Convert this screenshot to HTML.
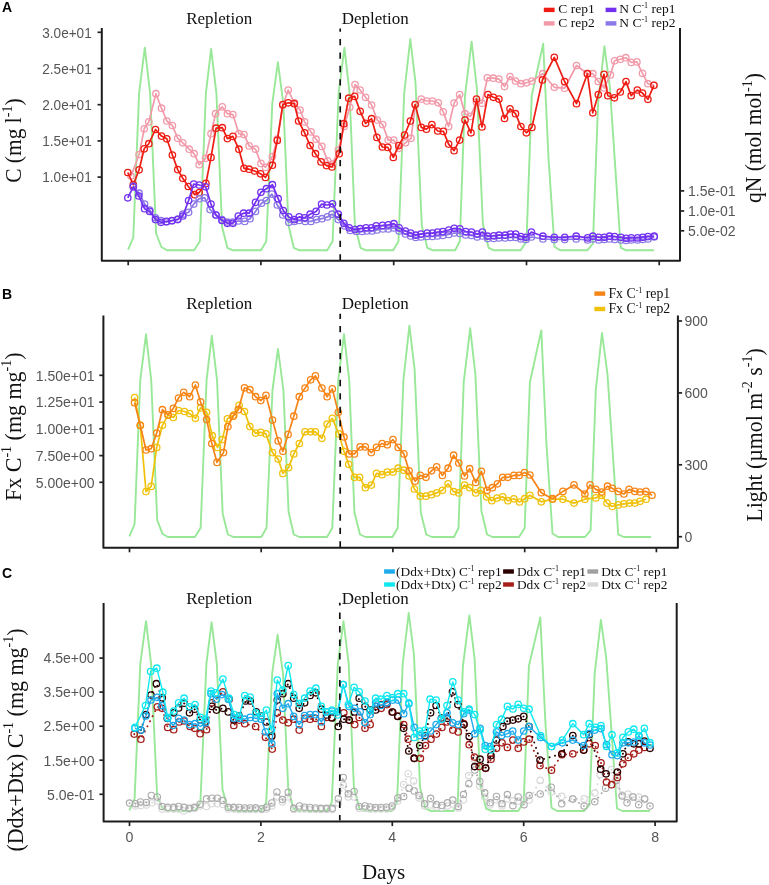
<!DOCTYPE html>
<html><head><meta charset="utf-8"><style>
html,body{margin:0;padding:0;background:#fff;width:769px;height:885px;overflow:hidden}
svg{display:block;will-change:transform;filter:blur(0.35px)}
</style></head><body>
<svg width="769" height="885" viewBox="0 0 769 885">
<rect width="769" height="885" fill="#fff"/>
<text x="2" y="12.2" font-family="Liberation Sans, sans-serif" font-weight="bold" font-size="14" fill="#000">A</text>
<text x="186.2" y="24.3" font-family="Liberation Serif, serif" font-size="17.6" textLength="66" lengthAdjust="spacingAndGlyphs" fill="#111">Repletion</text>
<text x="341.7" y="24.3" font-family="Liberation Serif, serif" font-size="17.6" textLength="67" lengthAdjust="spacingAndGlyphs" fill="#111">Depletion</text>
<rect x="543.8" y="7.7" width="10.8" height="4.4" fill="#EE1C12"/><text x="558.3" y="13.2" font-family="Liberation Serif, serif" font-size="13.5" fill="#111">C rep1</text>
<rect x="543.8" y="21.2" width="10.8" height="4.4" fill="#F29AAA"/><text x="558.3" y="26.7" font-family="Liberation Serif, serif" font-size="13.5" fill="#111">C rep2</text>
<rect x="605.6" y="7.7" width="10.8" height="4.4" fill="#7330F0"/><text x="619.3" y="13.2" font-family="Liberation Serif, serif" font-size="13.5" fill="#111">N C<tspan font-size="8" dy="-4.8">-1</tspan><tspan dy="4.8"> rep1</tspan></text>
<rect x="605.6" y="21.2" width="10.8" height="4.4" fill="#8C78E6"/><text x="619.3" y="26.7" font-family="Liberation Serif, serif" font-size="13.5" fill="#111">N C<tspan font-size="8" dy="-4.8">-1</tspan><tspan dy="4.8"> rep2</tspan></text>
<polyline points="128.1,249.6 133.3,237.3 139.1,93.1 144.8,47.6 150.1,93.1 156.1,233.5 161.4,247 166.9,250.3 194.1,250.3 199.9,241.3 205.9,93.1 211.1,48.9 216.4,93.1 222.1,227 227.4,247.8 232.9,250.3 261,250.3 266.3,241.3 272.3,103.3 277.9,62.3 283.3,103.3 288.5,225.3 293.8,247.8 299.3,250.3 327.2,250.3 332.6,241.3 338.6,93.3 344.4,47.6 349.6,93.3 354.9,225.3 360.5,247.8 366,250.3 393.3,250.3 398.5,241.3 404.2,93.3 410.3,39 415.5,82.7 421.8,225.7 427.3,247.8 432.9,250.3 455.2,250.3 459.8,241.3 465,95.7 471.6,41.6 476.8,87.9 482.9,224.3 488.6,247.8 494.1,250.3 520.7,250.3 526.5,241.3 531.7,95.6 543.2,43.7 548.5,158 554.5,246.8 560.1,250.3 565,250.3 587.3,250.3 592.9,243.7 598.1,103.3 604.4,46.3 609.9,87.8 620.7,247.6 626.3,250.3 626.6,250.3 654,250.3" fill="none" stroke="#98E898" stroke-width="1.9" stroke-linejoin="round"/>
<polyline points="131,176 139.1,154.6 144.2,128.8 148.8,121.9 155.9,93.7 161.5,108.2 166.8,121 172.4,125.5 177.7,138.3 182.8,142.8 189.2,149.2 194.1,153.7 199.2,164.7 205.6,158.3 211,133.7 215.6,113.7 222.3,106.9 227.4,113.7 232.9,114.6 238.9,133.7 244,134.6 249.1,145.9 255.5,149.2 260.9,163.4 265.5,167.4 272.4,156.5 277.3,139.2 282.8,105.5 288.2,90 294.3,102.8 300.1,110 304.6,121.9 311,131.9 316.1,139.2 321.9,146.4 327.7,160.9 332.5,164.1 338.3,150 344.1,126.4 349.8,107.3 355,84.6 360.2,90 365.6,97.3 371.6,105 377.3,120.1 382.7,124.6 388.2,140.1 393.7,140.1 398.8,148.3 405.5,142.8 411,138.3 415.5,104.6 421.3,99.1 426.8,101 432.3,101 438.3,102.8 443.2,111.9 448.6,126.4 454.1,103.1 459.6,94.6 465,113.7 470.5,116.4 476.5,101.9 482,103.3 487.4,77.8 493.4,78.2 498.9,79.1 504.5,86.6 510,76.5 515.5,81 520.9,83.7 526.4,82.8 531.9,81 542.8,73.7 554.3,87.3 564.6,88.2 576.5,65.5 587.4,73.7 592.8,73.7 598.3,81.5 604.1,88 610.4,74.9 614.6,60.8 620.3,59.3 625.8,57.7 631.2,62.4 636.9,61.9 642.5,73.3 647.9,83.7 653.9,85.3" fill="none" stroke="#F29AAA" stroke-width="1.7" stroke-linejoin="round"/>
<g fill="none" stroke="#F29AAA" stroke-width="1.3"><circle cx="131" cy="176" r="3.2"/><circle cx="139.1" cy="154.6" r="3.2"/><circle cx="144.2" cy="128.8" r="3.2"/><circle cx="148.8" cy="121.9" r="3.2"/><circle cx="155.9" cy="93.7" r="3.2"/><circle cx="161.5" cy="108.2" r="3.2"/><circle cx="166.8" cy="121" r="3.2"/><circle cx="172.4" cy="125.5" r="3.2"/><circle cx="177.7" cy="138.3" r="3.2"/><circle cx="182.8" cy="142.8" r="3.2"/><circle cx="189.2" cy="149.2" r="3.2"/><circle cx="194.1" cy="153.7" r="3.2"/><circle cx="199.2" cy="164.7" r="3.2"/><circle cx="205.6" cy="158.3" r="3.2"/><circle cx="211" cy="133.7" r="3.2"/><circle cx="215.6" cy="113.7" r="3.2"/><circle cx="222.3" cy="106.9" r="3.2"/><circle cx="227.4" cy="113.7" r="3.2"/><circle cx="232.9" cy="114.6" r="3.2"/><circle cx="238.9" cy="133.7" r="3.2"/><circle cx="244" cy="134.6" r="3.2"/><circle cx="249.1" cy="145.9" r="3.2"/><circle cx="255.5" cy="149.2" r="3.2"/><circle cx="260.9" cy="163.4" r="3.2"/><circle cx="265.5" cy="167.4" r="3.2"/><circle cx="272.4" cy="156.5" r="3.2"/><circle cx="277.3" cy="139.2" r="3.2"/><circle cx="282.8" cy="105.5" r="3.2"/><circle cx="288.2" cy="90" r="3.2"/><circle cx="294.3" cy="102.8" r="3.2"/><circle cx="300.1" cy="110" r="3.2"/><circle cx="304.6" cy="121.9" r="3.2"/><circle cx="311" cy="131.9" r="3.2"/><circle cx="316.1" cy="139.2" r="3.2"/><circle cx="321.9" cy="146.4" r="3.2"/><circle cx="327.7" cy="160.9" r="3.2"/><circle cx="332.5" cy="164.1" r="3.2"/><circle cx="338.3" cy="150" r="3.2"/><circle cx="344.1" cy="126.4" r="3.2"/><circle cx="349.8" cy="107.3" r="3.2"/><circle cx="355" cy="84.6" r="3.2"/><circle cx="360.2" cy="90" r="3.2"/><circle cx="365.6" cy="97.3" r="3.2"/><circle cx="371.6" cy="105" r="3.2"/><circle cx="377.3" cy="120.1" r="3.2"/><circle cx="382.7" cy="124.6" r="3.2"/><circle cx="388.2" cy="140.1" r="3.2"/><circle cx="393.7" cy="140.1" r="3.2"/><circle cx="398.8" cy="148.3" r="3.2"/><circle cx="405.5" cy="142.8" r="3.2"/><circle cx="411" cy="138.3" r="3.2"/><circle cx="415.5" cy="104.6" r="3.2"/><circle cx="421.3" cy="99.1" r="3.2"/><circle cx="426.8" cy="101" r="3.2"/><circle cx="432.3" cy="101" r="3.2"/><circle cx="438.3" cy="102.8" r="3.2"/><circle cx="443.2" cy="111.9" r="3.2"/><circle cx="448.6" cy="126.4" r="3.2"/><circle cx="454.1" cy="103.1" r="3.2"/><circle cx="459.6" cy="94.6" r="3.2"/><circle cx="465" cy="113.7" r="3.2"/><circle cx="470.5" cy="116.4" r="3.2"/><circle cx="476.5" cy="101.9" r="3.2"/><circle cx="482" cy="103.3" r="3.2"/><circle cx="487.4" cy="77.8" r="3.2"/><circle cx="493.4" cy="78.2" r="3.2"/><circle cx="498.9" cy="79.1" r="3.2"/><circle cx="504.5" cy="86.6" r="3.2"/><circle cx="510" cy="76.5" r="3.2"/><circle cx="515.5" cy="81" r="3.2"/><circle cx="520.9" cy="83.7" r="3.2"/><circle cx="526.4" cy="82.8" r="3.2"/><circle cx="531.9" cy="81" r="3.2"/><circle cx="542.8" cy="73.7" r="3.2"/><circle cx="554.3" cy="87.3" r="3.2"/><circle cx="564.6" cy="88.2" r="3.2"/><circle cx="576.5" cy="65.5" r="3.2"/><circle cx="587.4" cy="73.7" r="3.2"/><circle cx="592.8" cy="73.7" r="3.2"/><circle cx="598.3" cy="81.5" r="3.2"/><circle cx="604.1" cy="88" r="3.2"/><circle cx="610.4" cy="74.9" r="3.2"/><circle cx="614.6" cy="60.8" r="3.2"/><circle cx="620.3" cy="59.3" r="3.2"/><circle cx="625.8" cy="57.7" r="3.2"/><circle cx="631.2" cy="62.4" r="3.2"/><circle cx="636.9" cy="61.9" r="3.2"/><circle cx="642.5" cy="73.3" r="3.2"/><circle cx="647.9" cy="83.7" r="3.2"/><circle cx="653.9" cy="85.3" r="3.2"/></g>
<polyline points="127.8,172.5 133.3,184.7 139.1,169.8 144.2,148.8 148.8,143.7 155.5,129.5 161.5,136.1 166.8,138.8 172.4,155 177.7,169.6 182.8,178.3 188.3,186.5 194.7,194.7 199.2,192.5 205.9,183.4 211,157.4 216.1,128.2 222.3,127.7 227.4,138.6 232.9,136.4 238.9,149.2 244,168.3 249.1,169.2 254.6,171 260.6,173.8 265.5,177.4 272.4,165.2 277.3,140.4 282.8,104.6 288.2,102.8 294.3,103.7 298.6,121 304.6,132.8 310.1,145.5 315.5,153.7 321,161.9 326.5,165.6 331.9,167 339.2,153.7 343.8,123.7 348.7,98.2 354.7,96.4 360.2,111.3 365.6,123.3 371.6,118.7 376.9,137.4 382.4,147 387.8,147.4 393.3,157.4 398.8,145.6 404.6,135 410.4,121 415.1,104.6 421.3,127.4 426.4,129.2 431.9,124.6 437.7,131 443.4,131.4 448.6,144.1 454.1,150.7 459.6,140.1 465,120.1 471,132.8 476.5,99.1 482,127 488,94.6 493.4,97.3 498.9,99.1 504.5,118.5 510,108.8 515.5,113.7 520.9,126.5 526.4,132.8 531.9,127.4 542.4,80 554.3,57.3 564.6,81.5 576.5,103.7 587.4,73.7 592.8,112.8 598.3,94.6 604,74.3 607.8,95.7 614.4,97.8 620.3,92 626,81.6 631.2,95.7 637.3,90 642.5,93.1 647.9,99.3 653.9,85.3" fill="none" stroke="#EE1C12" stroke-width="1.7" stroke-linejoin="round"/>
<g fill="none" stroke="#EE1C12" stroke-width="1.3"><circle cx="127.8" cy="172.5" r="3.2"/><circle cx="133.3" cy="184.7" r="3.2"/><circle cx="139.1" cy="169.8" r="3.2"/><circle cx="144.2" cy="148.8" r="3.2"/><circle cx="148.8" cy="143.7" r="3.2"/><circle cx="155.5" cy="129.5" r="3.2"/><circle cx="161.5" cy="136.1" r="3.2"/><circle cx="166.8" cy="138.8" r="3.2"/><circle cx="172.4" cy="155" r="3.2"/><circle cx="177.7" cy="169.6" r="3.2"/><circle cx="182.8" cy="178.3" r="3.2"/><circle cx="188.3" cy="186.5" r="3.2"/><circle cx="194.7" cy="194.7" r="3.2"/><circle cx="199.2" cy="192.5" r="3.2"/><circle cx="205.9" cy="183.4" r="3.2"/><circle cx="211" cy="157.4" r="3.2"/><circle cx="216.1" cy="128.2" r="3.2"/><circle cx="222.3" cy="127.7" r="3.2"/><circle cx="227.4" cy="138.6" r="3.2"/><circle cx="232.9" cy="136.4" r="3.2"/><circle cx="238.9" cy="149.2" r="3.2"/><circle cx="244" cy="168.3" r="3.2"/><circle cx="249.1" cy="169.2" r="3.2"/><circle cx="254.6" cy="171" r="3.2"/><circle cx="260.6" cy="173.8" r="3.2"/><circle cx="265.5" cy="177.4" r="3.2"/><circle cx="272.4" cy="165.2" r="3.2"/><circle cx="277.3" cy="140.4" r="3.2"/><circle cx="282.8" cy="104.6" r="3.2"/><circle cx="288.2" cy="102.8" r="3.2"/><circle cx="294.3" cy="103.7" r="3.2"/><circle cx="298.6" cy="121" r="3.2"/><circle cx="304.6" cy="132.8" r="3.2"/><circle cx="310.1" cy="145.5" r="3.2"/><circle cx="315.5" cy="153.7" r="3.2"/><circle cx="321" cy="161.9" r="3.2"/><circle cx="326.5" cy="165.6" r="3.2"/><circle cx="331.9" cy="167" r="3.2"/><circle cx="339.2" cy="153.7" r="3.2"/><circle cx="343.8" cy="123.7" r="3.2"/><circle cx="348.7" cy="98.2" r="3.2"/><circle cx="354.7" cy="96.4" r="3.2"/><circle cx="360.2" cy="111.3" r="3.2"/><circle cx="365.6" cy="123.3" r="3.2"/><circle cx="371.6" cy="118.7" r="3.2"/><circle cx="376.9" cy="137.4" r="3.2"/><circle cx="382.4" cy="147" r="3.2"/><circle cx="387.8" cy="147.4" r="3.2"/><circle cx="393.3" cy="157.4" r="3.2"/><circle cx="398.8" cy="145.6" r="3.2"/><circle cx="404.6" cy="135" r="3.2"/><circle cx="410.4" cy="121" r="3.2"/><circle cx="415.1" cy="104.6" r="3.2"/><circle cx="421.3" cy="127.4" r="3.2"/><circle cx="426.4" cy="129.2" r="3.2"/><circle cx="431.9" cy="124.6" r="3.2"/><circle cx="437.7" cy="131" r="3.2"/><circle cx="443.4" cy="131.4" r="3.2"/><circle cx="448.6" cy="144.1" r="3.2"/><circle cx="454.1" cy="150.7" r="3.2"/><circle cx="459.6" cy="140.1" r="3.2"/><circle cx="465" cy="120.1" r="3.2"/><circle cx="471" cy="132.8" r="3.2"/><circle cx="476.5" cy="99.1" r="3.2"/><circle cx="482" cy="127" r="3.2"/><circle cx="488" cy="94.6" r="3.2"/><circle cx="493.4" cy="97.3" r="3.2"/><circle cx="498.9" cy="99.1" r="3.2"/><circle cx="504.5" cy="118.5" r="3.2"/><circle cx="510" cy="108.8" r="3.2"/><circle cx="515.5" cy="113.7" r="3.2"/><circle cx="520.9" cy="126.5" r="3.2"/><circle cx="526.4" cy="132.8" r="3.2"/><circle cx="531.9" cy="127.4" r="3.2"/><circle cx="542.4" cy="80" r="3.2"/><circle cx="554.3" cy="57.3" r="3.2"/><circle cx="564.6" cy="81.5" r="3.2"/><circle cx="576.5" cy="103.7" r="3.2"/><circle cx="587.4" cy="73.7" r="3.2"/><circle cx="592.8" cy="112.8" r="3.2"/><circle cx="598.3" cy="94.6" r="3.2"/><circle cx="604" cy="74.3" r="3.2"/><circle cx="607.8" cy="95.7" r="3.2"/><circle cx="614.4" cy="97.8" r="3.2"/><circle cx="620.3" cy="92" r="3.2"/><circle cx="626" cy="81.6" r="3.2"/><circle cx="631.2" cy="95.7" r="3.2"/><circle cx="637.3" cy="90" r="3.2"/><circle cx="642.5" cy="93.1" r="3.2"/><circle cx="647.9" cy="99.3" r="3.2"/><circle cx="653.9" cy="85.3" r="3.2"/></g>
<polyline points="133.3,186 139.1,193.2 144.6,204 149.7,210 155.5,217.8 161,220.5 166.4,222 171.9,221 177.7,219 182.8,214.2 188.6,212.3 193.7,204.1 199.2,198.7 204.7,197.8 210.1,209.6 216,215 222,219.6 227.4,222 232.9,222 238.3,221 244.7,221.4 250,218.7 255.5,211.4 261.5,203.2 266.4,200.5 271.9,194.1 277.3,205 282.8,215 288.8,222.3 294.3,221.4 299.2,220.5 305.2,221.4 311,221.4 316.5,219.6 321.9,218.7 327.4,216.9 331.9,214.2 338.3,219.6 344.7,226 350.1,230.5 356.5,231.5 362,231.5 367,231 372,231 377,230 383,229 388.3,229 393.9,228 399.1,231 405.4,234 410.6,236 415.8,237.5 421,237 427.2,236.5 432.4,236.5 437.6,236 442.8,235.5 448.7,234.5 454.3,233 459.9,233.5 465.7,235 471.5,235.5 477.2,237 482.4,236 487.6,238.5 493.8,238.5 499,238 505.2,238 510.5,237.5 515.7,237.5 520.9,239 526,239.5 531.4,237 542.9,239 554.3,239.5 564.7,239.5 576.2,239 587.6,240 592.8,239 598.7,240 604.3,239.5 609.5,239 614.7,239.5 620.9,240 626.1,240.5 631.3,240 637.6,240 642.8,239.5 648,239 654.2,237" fill="none" stroke="#8C78E6" stroke-width="1.7" stroke-linejoin="round"/>
<g fill="none" stroke="#8C78E6" stroke-width="1.3"><circle cx="133.3" cy="186" r="3.2"/><circle cx="139.1" cy="193.2" r="3.2"/><circle cx="144.6" cy="204" r="3.2"/><circle cx="149.7" cy="210" r="3.2"/><circle cx="155.5" cy="217.8" r="3.2"/><circle cx="161" cy="220.5" r="3.2"/><circle cx="166.4" cy="222" r="3.2"/><circle cx="171.9" cy="221" r="3.2"/><circle cx="177.7" cy="219" r="3.2"/><circle cx="182.8" cy="214.2" r="3.2"/><circle cx="188.6" cy="212.3" r="3.2"/><circle cx="193.7" cy="204.1" r="3.2"/><circle cx="199.2" cy="198.7" r="3.2"/><circle cx="204.7" cy="197.8" r="3.2"/><circle cx="210.1" cy="209.6" r="3.2"/><circle cx="216" cy="215" r="3.2"/><circle cx="222" cy="219.6" r="3.2"/><circle cx="227.4" cy="222" r="3.2"/><circle cx="232.9" cy="222" r="3.2"/><circle cx="238.3" cy="221" r="3.2"/><circle cx="244.7" cy="221.4" r="3.2"/><circle cx="250" cy="218.7" r="3.2"/><circle cx="255.5" cy="211.4" r="3.2"/><circle cx="261.5" cy="203.2" r="3.2"/><circle cx="266.4" cy="200.5" r="3.2"/><circle cx="271.9" cy="194.1" r="3.2"/><circle cx="277.3" cy="205" r="3.2"/><circle cx="282.8" cy="215" r="3.2"/><circle cx="288.8" cy="222.3" r="3.2"/><circle cx="294.3" cy="221.4" r="3.2"/><circle cx="299.2" cy="220.5" r="3.2"/><circle cx="305.2" cy="221.4" r="3.2"/><circle cx="311" cy="221.4" r="3.2"/><circle cx="316.5" cy="219.6" r="3.2"/><circle cx="321.9" cy="218.7" r="3.2"/><circle cx="327.4" cy="216.9" r="3.2"/><circle cx="331.9" cy="214.2" r="3.2"/><circle cx="338.3" cy="219.6" r="3.2"/><circle cx="344.7" cy="226" r="3.2"/><circle cx="350.1" cy="230.5" r="3.2"/><circle cx="356.5" cy="231.5" r="3.2"/><circle cx="362" cy="231.5" r="3.2"/><circle cx="367" cy="231" r="3.2"/><circle cx="372" cy="231" r="3.2"/><circle cx="377" cy="230" r="3.2"/><circle cx="383" cy="229" r="3.2"/><circle cx="388.3" cy="229" r="3.2"/><circle cx="393.9" cy="228" r="3.2"/><circle cx="399.1" cy="231" r="3.2"/><circle cx="405.4" cy="234" r="3.2"/><circle cx="410.6" cy="236" r="3.2"/><circle cx="415.8" cy="237.5" r="3.2"/><circle cx="421" cy="237" r="3.2"/><circle cx="427.2" cy="236.5" r="3.2"/><circle cx="432.4" cy="236.5" r="3.2"/><circle cx="437.6" cy="236" r="3.2"/><circle cx="442.8" cy="235.5" r="3.2"/><circle cx="448.7" cy="234.5" r="3.2"/><circle cx="454.3" cy="233" r="3.2"/><circle cx="459.9" cy="233.5" r="3.2"/><circle cx="465.7" cy="235" r="3.2"/><circle cx="471.5" cy="235.5" r="3.2"/><circle cx="477.2" cy="237" r="3.2"/><circle cx="482.4" cy="236" r="3.2"/><circle cx="487.6" cy="238.5" r="3.2"/><circle cx="493.8" cy="238.5" r="3.2"/><circle cx="499" cy="238" r="3.2"/><circle cx="505.2" cy="238" r="3.2"/><circle cx="510.5" cy="237.5" r="3.2"/><circle cx="515.7" cy="237.5" r="3.2"/><circle cx="520.9" cy="239" r="3.2"/><circle cx="526" cy="239.5" r="3.2"/><circle cx="531.4" cy="237" r="3.2"/><circle cx="542.9" cy="239" r="3.2"/><circle cx="554.3" cy="239.5" r="3.2"/><circle cx="564.7" cy="239.5" r="3.2"/><circle cx="576.2" cy="239" r="3.2"/><circle cx="587.6" cy="240" r="3.2"/><circle cx="592.8" cy="239" r="3.2"/><circle cx="598.7" cy="240" r="3.2"/><circle cx="604.3" cy="239.5" r="3.2"/><circle cx="609.5" cy="239" r="3.2"/><circle cx="614.7" cy="239.5" r="3.2"/><circle cx="620.9" cy="240" r="3.2"/><circle cx="626.1" cy="240.5" r="3.2"/><circle cx="631.3" cy="240" r="3.2"/><circle cx="637.6" cy="240" r="3.2"/><circle cx="642.8" cy="239.5" r="3.2"/><circle cx="648" cy="239" r="3.2"/><circle cx="654.2" cy="237" r="3.2"/></g>
<polyline points="127.8,197.8 133.3,186.8 138.8,196 144.6,208.7 149.7,211.4 155.5,219.6 161,222.3 166.4,221.4 171.9,220.5 177.7,219.6 182.8,216 188.6,200.5 193.7,184.1 199.2,185 205.6,186.8 211,204.1 216,215 222,220.5 227.4,223.3 232.9,223.3 238.3,216 243.6,213.2 249.1,213.2 255.5,202.3 260.9,192.3 266.4,188.7 272.4,184.7 278.2,198.7 283.3,210.5 288.8,216.9 294.3,219.6 299.2,216.9 304.6,217.8 310.1,214.2 316.1,211.4 321.6,204.1 327,205 332.5,203.8 338.3,214.2 343.8,223.3 349.2,227.8 355,229.6 360.2,228.7 366,227.8 371.4,227.8 376.2,225.8 382.5,225.4 388.3,224.8 393.9,223.7 399.1,227.9 405.4,231 410.6,233.1 415.8,235.2 421,234.1 427.2,233.1 432.4,233.1 437.6,232 442.8,231.6 448.7,230 454.3,228.3 459.9,228.9 465.7,231.6 471.5,232 477.2,234.1 482.4,232 487.6,236.2 493.8,235.8 499,235.2 505.2,235.2 510.5,234.1 515.7,234.1 520.9,236.6 526,237.3 531.4,232 542.9,236.2 554.3,237.3 564.7,237.3 576.2,236.2 587.6,237.9 592.8,236.2 598.7,237.3 604.3,237.3 609.5,236.2 614.7,236.6 620.9,237.3 626.1,238.3 631.3,237.9 637.6,237.9 642.8,237.3 648,236.6 654.2,236.2" fill="none" stroke="#7330F0" stroke-width="1.7" stroke-linejoin="round"/>
<g fill="none" stroke="#7330F0" stroke-width="1.3"><circle cx="127.8" cy="197.8" r="3.2"/><circle cx="133.3" cy="186.8" r="3.2"/><circle cx="138.8" cy="196" r="3.2"/><circle cx="144.6" cy="208.7" r="3.2"/><circle cx="149.7" cy="211.4" r="3.2"/><circle cx="155.5" cy="219.6" r="3.2"/><circle cx="161" cy="222.3" r="3.2"/><circle cx="166.4" cy="221.4" r="3.2"/><circle cx="171.9" cy="220.5" r="3.2"/><circle cx="177.7" cy="219.6" r="3.2"/><circle cx="182.8" cy="216" r="3.2"/><circle cx="188.6" cy="200.5" r="3.2"/><circle cx="193.7" cy="184.1" r="3.2"/><circle cx="199.2" cy="185" r="3.2"/><circle cx="205.6" cy="186.8" r="3.2"/><circle cx="211" cy="204.1" r="3.2"/><circle cx="216" cy="215" r="3.2"/><circle cx="222" cy="220.5" r="3.2"/><circle cx="227.4" cy="223.3" r="3.2"/><circle cx="232.9" cy="223.3" r="3.2"/><circle cx="238.3" cy="216" r="3.2"/><circle cx="243.6" cy="213.2" r="3.2"/><circle cx="249.1" cy="213.2" r="3.2"/><circle cx="255.5" cy="202.3" r="3.2"/><circle cx="260.9" cy="192.3" r="3.2"/><circle cx="266.4" cy="188.7" r="3.2"/><circle cx="272.4" cy="184.7" r="3.2"/><circle cx="278.2" cy="198.7" r="3.2"/><circle cx="283.3" cy="210.5" r="3.2"/><circle cx="288.8" cy="216.9" r="3.2"/><circle cx="294.3" cy="219.6" r="3.2"/><circle cx="299.2" cy="216.9" r="3.2"/><circle cx="304.6" cy="217.8" r="3.2"/><circle cx="310.1" cy="214.2" r="3.2"/><circle cx="316.1" cy="211.4" r="3.2"/><circle cx="321.6" cy="204.1" r="3.2"/><circle cx="327" cy="205" r="3.2"/><circle cx="332.5" cy="203.8" r="3.2"/><circle cx="338.3" cy="214.2" r="3.2"/><circle cx="343.8" cy="223.3" r="3.2"/><circle cx="349.2" cy="227.8" r="3.2"/><circle cx="355" cy="229.6" r="3.2"/><circle cx="360.2" cy="228.7" r="3.2"/><circle cx="366" cy="227.8" r="3.2"/><circle cx="371.4" cy="227.8" r="3.2"/><circle cx="376.2" cy="225.8" r="3.2"/><circle cx="382.5" cy="225.4" r="3.2"/><circle cx="388.3" cy="224.8" r="3.2"/><circle cx="393.9" cy="223.7" r="3.2"/><circle cx="399.1" cy="227.9" r="3.2"/><circle cx="405.4" cy="231" r="3.2"/><circle cx="410.6" cy="233.1" r="3.2"/><circle cx="415.8" cy="235.2" r="3.2"/><circle cx="421" cy="234.1" r="3.2"/><circle cx="427.2" cy="233.1" r="3.2"/><circle cx="432.4" cy="233.1" r="3.2"/><circle cx="437.6" cy="232" r="3.2"/><circle cx="442.8" cy="231.6" r="3.2"/><circle cx="448.7" cy="230" r="3.2"/><circle cx="454.3" cy="228.3" r="3.2"/><circle cx="459.9" cy="228.9" r="3.2"/><circle cx="465.7" cy="231.6" r="3.2"/><circle cx="471.5" cy="232" r="3.2"/><circle cx="477.2" cy="234.1" r="3.2"/><circle cx="482.4" cy="232" r="3.2"/><circle cx="487.6" cy="236.2" r="3.2"/><circle cx="493.8" cy="235.8" r="3.2"/><circle cx="499" cy="235.2" r="3.2"/><circle cx="505.2" cy="235.2" r="3.2"/><circle cx="510.5" cy="234.1" r="3.2"/><circle cx="515.7" cy="234.1" r="3.2"/><circle cx="520.9" cy="236.6" r="3.2"/><circle cx="526" cy="237.3" r="3.2"/><circle cx="531.4" cy="232" r="3.2"/><circle cx="542.9" cy="236.2" r="3.2"/><circle cx="554.3" cy="237.3" r="3.2"/><circle cx="564.7" cy="237.3" r="3.2"/><circle cx="576.2" cy="236.2" r="3.2"/><circle cx="587.6" cy="237.9" r="3.2"/><circle cx="592.8" cy="236.2" r="3.2"/><circle cx="598.7" cy="237.3" r="3.2"/><circle cx="604.3" cy="237.3" r="3.2"/><circle cx="609.5" cy="236.2" r="3.2"/><circle cx="614.7" cy="236.6" r="3.2"/><circle cx="620.9" cy="237.3" r="3.2"/><circle cx="626.1" cy="238.3" r="3.2"/><circle cx="631.3" cy="237.9" r="3.2"/><circle cx="637.6" cy="237.9" r="3.2"/><circle cx="642.8" cy="237.3" r="3.2"/><circle cx="648" cy="236.6" r="3.2"/><circle cx="654.2" cy="236.2" r="3.2"/></g>
<line x1="340.2" y1="28.4" x2="340.2" y2="260" stroke="#111" stroke-width="1.7" stroke-dasharray="6.3 7.15" stroke-dashoffset="2.9"/>
<path d="M101.8,28 V260.8 H680 V28" fill="none" stroke="#1c1c1c" stroke-width="2.0" stroke-linejoin="round"/><line x1="128.2" y1="260.8" x2="128.2" y2="265.3" stroke="#222" stroke-width="1.7"/><line x1="260.9" y1="260.8" x2="260.9" y2="265.3" stroke="#222" stroke-width="1.7"/><line x1="393.7" y1="260.8" x2="393.7" y2="265.3" stroke="#222" stroke-width="1.7"/><line x1="526.5" y1="260.8" x2="526.5" y2="265.3" stroke="#222" stroke-width="1.7"/><line x1="659.2" y1="260.8" x2="659.2" y2="265.3" stroke="#222" stroke-width="1.7"/>
<line x1="97.5" y1="32.3" x2="101.7" y2="32.3" stroke="#222" stroke-width="1.7"/><text transform="translate(91.7,37.6) scale(0.97,1)" text-anchor="end" font-family="Liberation Sans, sans-serif" font-size="14" fill="#555555">3.0e+01</text><line x1="97.5" y1="68.5" x2="101.7" y2="68.5" stroke="#222" stroke-width="1.7"/><text transform="translate(91.7,73.8) scale(0.97,1)" text-anchor="end" font-family="Liberation Sans, sans-serif" font-size="14" fill="#555555">2.5e+01</text><line x1="97.5" y1="104.7" x2="101.7" y2="104.7" stroke="#222" stroke-width="1.7"/><text transform="translate(91.7,110) scale(0.97,1)" text-anchor="end" font-family="Liberation Sans, sans-serif" font-size="14" fill="#555555">2.0e+01</text><line x1="97.5" y1="140.9" x2="101.7" y2="140.9" stroke="#222" stroke-width="1.7"/><text transform="translate(91.7,146.2) scale(0.97,1)" text-anchor="end" font-family="Liberation Sans, sans-serif" font-size="14" fill="#555555">1.5e+01</text><line x1="97.5" y1="177.1" x2="101.7" y2="177.1" stroke="#222" stroke-width="1.7"/><text transform="translate(91.7,182.4) scale(0.97,1)" text-anchor="end" font-family="Liberation Sans, sans-serif" font-size="14" fill="#555555">1.0e+01</text>
<line x1="680" y1="190.9" x2="684.2" y2="190.9" stroke="#222" stroke-width="1.7"/><text x="688" y="196" font-family="Liberation Sans, sans-serif" font-size="14" fill="#555555">1.5e-01</text><line x1="680" y1="211" x2="684.2" y2="211" stroke="#222" stroke-width="1.7"/><text x="688" y="216.1" font-family="Liberation Sans, sans-serif" font-size="14" fill="#555555">1.0e-01</text><line x1="680" y1="230.8" x2="684.2" y2="230.8" stroke="#222" stroke-width="1.7"/><text x="688" y="235.9" font-family="Liberation Sans, sans-serif" font-size="14" fill="#555555">5.0e-02</text>
<text transform="translate(21.4,140.6) scale(1.08,1) rotate(-90)" text-anchor="middle" font-family="Liberation Serif, serif" font-size="21.5" fill="#111">C (mg l<tspan font-size="14" dy="-9">-1</tspan><tspan dy="9">)</tspan></text>
<text transform="translate(761.2,138) scale(1.06,1) rotate(-90)" text-anchor="middle" font-family="Liberation Serif, serif" font-size="21.5" fill="#111">qN (mol mol<tspan font-size="14" dy="-9">-1</tspan><tspan dy="9">)</tspan></text>
<text x="2" y="299" font-family="Liberation Sans, sans-serif" font-weight="bold" font-size="14" fill="#000">B</text>
<text x="186.2" y="308.5" font-family="Liberation Serif, serif" font-size="17.6" textLength="66" lengthAdjust="spacingAndGlyphs" fill="#111">Repletion</text>
<text x="341.7" y="308.5" font-family="Liberation Serif, serif" font-size="17.6" textLength="67" lengthAdjust="spacingAndGlyphs" fill="#111">Depletion</text>
<rect x="594.4" y="291.4" width="10.8" height="4.4" fill="#F78416"/><text x="608.4" y="297.6" font-family="Liberation Serif, serif" font-size="13.8" fill="#111">Fx C<tspan font-size="8" dy="-4.8">-1</tspan><tspan dy="4.8"> rep1</tspan></text>
<rect x="594.4" y="306.8" width="10.8" height="4.4" fill="#F0C10A"/><text x="608.4" y="313.2" font-family="Liberation Serif, serif" font-size="13.8" fill="#111">Fx C<tspan font-size="8" dy="-4.8">-1</tspan><tspan dy="4.8"> rep2</tspan></text>
<polyline points="129.4,536.3 134.6,524 140.3,379.8 146,334.3 151.2,379.8 157.2,520.2 162.4,533.7 167.9,537 194.9,537 200.6,528 206.6,379.8 211.8,335.6 217,379.8 222.7,513.7 227.9,534.5 233.4,537 261.3,537 266.5,528 272.5,390 278,349 283.4,390 288.6,512 293.8,534.5 299.3,537 327,537 332.3,528 338.3,380 344,334.3 349.2,380 354.4,512 360,534.5 365.5,537 392.5,537 397.7,528 403.4,380 409.4,325.7 414.6,369.4 420.8,512.4 426.3,534.5 431.8,537 454,537 458.5,528 463.7,382.4 470.2,328.3 475.4,374.6 481.4,511 487.1,534.5 492.6,537 519,537 524.7,528 529.9,382.3 541.3,330.4 546.5,444.7 552.5,533.5 558,537 562.9,537 585,537 590.6,530.4 595.8,390 602,333 607.5,374.5 618.2,534.3 623.7,537 624,537 651.2,537" fill="none" stroke="#98E898" stroke-width="1.9" stroke-linejoin="round"/>
<polyline points="134.6,397.5 140.3,425.3 146,491.6 151.2,486.4 156.7,447.4 162.4,425.3 168.1,414.9 173.3,417.5 178.5,410.5 184.5,411.5 189.7,413.6 195.4,418.3 200.6,407.9 206.6,412.3 212.3,435.7 217.5,447.4 222.2,439.6 227.4,418.8 233.9,414.9 239.1,405.3 244.5,411.5 249.9,426.6 255.6,433.1 260.8,432.3 266,433.9 272.5,452.6 278.2,459.1 282.9,473.4 288.6,467.6 293.8,453.9 299.3,443.5 305,431.8 310.7,431.8 315.4,431.8 321.9,438.3 327.1,424 332.3,418.3 338.8,433.9 344,451.3 348.7,464.3 354.4,477.3 359.6,477.3 365.3,487.7 371.3,485.1 376.5,473.4 382.1,474.7 387.3,472.1 393,472.1 398.2,468.2 403.9,470.2 409.1,476 414.4,489 420.3,496.2 426,496.2 431.5,494.7 436.7,492.9 442.4,490.3 448.1,483.8 453.6,491.6 458.8,492.9 464.5,485.1 469.7,487.7 475.7,492.9 480.9,490.3 486.6,496.8 491.8,500.7 497,498.1 502.7,496.8 507.9,500.7 513.9,498.8 519.6,502 524.7,498.7 529.9,495.3 541.3,501.8 552.5,499.2 562.9,499.2 574,503.1 584.9,499.2 595.8,497.9 601.8,495.3 607,503.1 612.2,506.5 618.2,504.9 623.9,503.9 629.6,503.1 634.8,503.1 640,501.3 646,499.2" fill="none" stroke="#F0C10A" stroke-width="1.7" stroke-linejoin="round"/>
<g fill="none" stroke="#F0C10A" stroke-width="1.3"><circle cx="134.6" cy="397.5" r="3.2"/><circle cx="140.3" cy="425.3" r="3.2"/><circle cx="146" cy="491.6" r="3.2"/><circle cx="151.2" cy="486.4" r="3.2"/><circle cx="156.7" cy="447.4" r="3.2"/><circle cx="162.4" cy="425.3" r="3.2"/><circle cx="168.1" cy="414.9" r="3.2"/><circle cx="173.3" cy="417.5" r="3.2"/><circle cx="178.5" cy="410.5" r="3.2"/><circle cx="184.5" cy="411.5" r="3.2"/><circle cx="189.7" cy="413.6" r="3.2"/><circle cx="195.4" cy="418.3" r="3.2"/><circle cx="200.6" cy="407.9" r="3.2"/><circle cx="206.6" cy="412.3" r="3.2"/><circle cx="212.3" cy="435.7" r="3.2"/><circle cx="217.5" cy="447.4" r="3.2"/><circle cx="222.2" cy="439.6" r="3.2"/><circle cx="227.4" cy="418.8" r="3.2"/><circle cx="233.9" cy="414.9" r="3.2"/><circle cx="239.1" cy="405.3" r="3.2"/><circle cx="244.5" cy="411.5" r="3.2"/><circle cx="249.9" cy="426.6" r="3.2"/><circle cx="255.6" cy="433.1" r="3.2"/><circle cx="260.8" cy="432.3" r="3.2"/><circle cx="266" cy="433.9" r="3.2"/><circle cx="272.5" cy="452.6" r="3.2"/><circle cx="278.2" cy="459.1" r="3.2"/><circle cx="282.9" cy="473.4" r="3.2"/><circle cx="288.6" cy="467.6" r="3.2"/><circle cx="293.8" cy="453.9" r="3.2"/><circle cx="299.3" cy="443.5" r="3.2"/><circle cx="305" cy="431.8" r="3.2"/><circle cx="310.7" cy="431.8" r="3.2"/><circle cx="315.4" cy="431.8" r="3.2"/><circle cx="321.9" cy="438.3" r="3.2"/><circle cx="327.1" cy="424" r="3.2"/><circle cx="332.3" cy="418.3" r="3.2"/><circle cx="338.8" cy="433.9" r="3.2"/><circle cx="344" cy="451.3" r="3.2"/><circle cx="348.7" cy="464.3" r="3.2"/><circle cx="354.4" cy="477.3" r="3.2"/><circle cx="359.6" cy="477.3" r="3.2"/><circle cx="365.3" cy="487.7" r="3.2"/><circle cx="371.3" cy="485.1" r="3.2"/><circle cx="376.5" cy="473.4" r="3.2"/><circle cx="382.1" cy="474.7" r="3.2"/><circle cx="387.3" cy="472.1" r="3.2"/><circle cx="393" cy="472.1" r="3.2"/><circle cx="398.2" cy="468.2" r="3.2"/><circle cx="403.9" cy="470.2" r="3.2"/><circle cx="409.1" cy="476" r="3.2"/><circle cx="414.4" cy="489" r="3.2"/><circle cx="420.3" cy="496.2" r="3.2"/><circle cx="426" cy="496.2" r="3.2"/><circle cx="431.5" cy="494.7" r="3.2"/><circle cx="436.7" cy="492.9" r="3.2"/><circle cx="442.4" cy="490.3" r="3.2"/><circle cx="448.1" cy="483.8" r="3.2"/><circle cx="453.6" cy="491.6" r="3.2"/><circle cx="458.8" cy="492.9" r="3.2"/><circle cx="464.5" cy="485.1" r="3.2"/><circle cx="469.7" cy="487.7" r="3.2"/><circle cx="475.7" cy="492.9" r="3.2"/><circle cx="480.9" cy="490.3" r="3.2"/><circle cx="486.6" cy="496.8" r="3.2"/><circle cx="491.8" cy="500.7" r="3.2"/><circle cx="497" cy="498.1" r="3.2"/><circle cx="502.7" cy="496.8" r="3.2"/><circle cx="507.9" cy="500.7" r="3.2"/><circle cx="513.9" cy="498.8" r="3.2"/><circle cx="519.6" cy="502" r="3.2"/><circle cx="524.7" cy="498.7" r="3.2"/><circle cx="529.9" cy="495.3" r="3.2"/><circle cx="541.3" cy="501.8" r="3.2"/><circle cx="552.5" cy="499.2" r="3.2"/><circle cx="562.9" cy="499.2" r="3.2"/><circle cx="574" cy="503.1" r="3.2"/><circle cx="584.9" cy="499.2" r="3.2"/><circle cx="595.8" cy="497.9" r="3.2"/><circle cx="601.8" cy="495.3" r="3.2"/><circle cx="607" cy="503.1" r="3.2"/><circle cx="612.2" cy="506.5" r="3.2"/><circle cx="618.2" cy="504.9" r="3.2"/><circle cx="623.9" cy="503.9" r="3.2"/><circle cx="629.6" cy="503.1" r="3.2"/><circle cx="634.8" cy="503.1" r="3.2"/><circle cx="640" cy="501.3" r="3.2"/><circle cx="646" cy="499.2" r="3.2"/></g>
<polyline points="134.6,402.7 140.3,425.3 146,450 151.2,448.7 156.7,433.1 162.4,409.7 168.1,414.9 173.3,408.4 178.5,398 183.7,392.3 189.7,396.7 195.4,385 200.6,401.9 206.6,419.6 211.8,443.5 217,462.4 223.5,452.6 227.9,426.6 233.1,416.2 238.3,409.7 244.5,387.8 249.9,389.7 255.6,396.7 260.8,400.6 266,395.4 272.5,420.1 278.2,440.9 282.9,451.3 288.1,434.4 293.8,416.2 299.3,396.7 305,388.1 310.7,379.8 315.4,375.9 321.9,388.1 327.1,396.7 332.3,388.9 338.3,412.3 344,437 349.2,453.9 354.4,453.9 360.1,446.9 365.3,446.9 371.3,452.6 376.5,447.4 382.1,443.5 387.3,444.8 393,439.6 398.2,447.4 403.9,453.9 409.1,470.8 415.1,481.2 420.3,475.4 426,477.3 431.5,470.8 436.7,466.9 442.4,475.4 448.1,468.2 453.6,455.2 458.8,463 464.5,476 469.7,468.7 475.7,482.5 481.4,471.3 487.1,490.3 492.3,487.7 497.5,483.8 502.7,477.3 507.9,477.3 513.9,475.4 519.1,475.4 524.5,472.5 529.9,475 541.3,492.7 552.5,498.7 562.9,491.4 574,484.9 584.9,494 590.1,484.9 595.8,489.4 601.8,492 607.5,486.2 612.2,488.3 618.2,491.4 623.9,494 629.1,489.4 634.8,491.4 640,492 646,491.4 652,495.3" fill="none" stroke="#F78416" stroke-width="1.7" stroke-linejoin="round"/>
<g fill="none" stroke="#F78416" stroke-width="1.3"><circle cx="134.6" cy="402.7" r="3.2"/><circle cx="140.3" cy="425.3" r="3.2"/><circle cx="146" cy="450" r="3.2"/><circle cx="151.2" cy="448.7" r="3.2"/><circle cx="156.7" cy="433.1" r="3.2"/><circle cx="162.4" cy="409.7" r="3.2"/><circle cx="168.1" cy="414.9" r="3.2"/><circle cx="173.3" cy="408.4" r="3.2"/><circle cx="178.5" cy="398" r="3.2"/><circle cx="183.7" cy="392.3" r="3.2"/><circle cx="189.7" cy="396.7" r="3.2"/><circle cx="195.4" cy="385" r="3.2"/><circle cx="200.6" cy="401.9" r="3.2"/><circle cx="206.6" cy="419.6" r="3.2"/><circle cx="211.8" cy="443.5" r="3.2"/><circle cx="217" cy="462.4" r="3.2"/><circle cx="223.5" cy="452.6" r="3.2"/><circle cx="227.9" cy="426.6" r="3.2"/><circle cx="233.1" cy="416.2" r="3.2"/><circle cx="238.3" cy="409.7" r="3.2"/><circle cx="244.5" cy="387.8" r="3.2"/><circle cx="249.9" cy="389.7" r="3.2"/><circle cx="255.6" cy="396.7" r="3.2"/><circle cx="260.8" cy="400.6" r="3.2"/><circle cx="266" cy="395.4" r="3.2"/><circle cx="272.5" cy="420.1" r="3.2"/><circle cx="278.2" cy="440.9" r="3.2"/><circle cx="282.9" cy="451.3" r="3.2"/><circle cx="288.1" cy="434.4" r="3.2"/><circle cx="293.8" cy="416.2" r="3.2"/><circle cx="299.3" cy="396.7" r="3.2"/><circle cx="305" cy="388.1" r="3.2"/><circle cx="310.7" cy="379.8" r="3.2"/><circle cx="315.4" cy="375.9" r="3.2"/><circle cx="321.9" cy="388.1" r="3.2"/><circle cx="327.1" cy="396.7" r="3.2"/><circle cx="332.3" cy="388.9" r="3.2"/><circle cx="338.3" cy="412.3" r="3.2"/><circle cx="344" cy="437" r="3.2"/><circle cx="349.2" cy="453.9" r="3.2"/><circle cx="354.4" cy="453.9" r="3.2"/><circle cx="360.1" cy="446.9" r="3.2"/><circle cx="365.3" cy="446.9" r="3.2"/><circle cx="371.3" cy="452.6" r="3.2"/><circle cx="376.5" cy="447.4" r="3.2"/><circle cx="382.1" cy="443.5" r="3.2"/><circle cx="387.3" cy="444.8" r="3.2"/><circle cx="393" cy="439.6" r="3.2"/><circle cx="398.2" cy="447.4" r="3.2"/><circle cx="403.9" cy="453.9" r="3.2"/><circle cx="409.1" cy="470.8" r="3.2"/><circle cx="415.1" cy="481.2" r="3.2"/><circle cx="420.3" cy="475.4" r="3.2"/><circle cx="426" cy="477.3" r="3.2"/><circle cx="431.5" cy="470.8" r="3.2"/><circle cx="436.7" cy="466.9" r="3.2"/><circle cx="442.4" cy="475.4" r="3.2"/><circle cx="448.1" cy="468.2" r="3.2"/><circle cx="453.6" cy="455.2" r="3.2"/><circle cx="458.8" cy="463" r="3.2"/><circle cx="464.5" cy="476" r="3.2"/><circle cx="469.7" cy="468.7" r="3.2"/><circle cx="475.7" cy="482.5" r="3.2"/><circle cx="481.4" cy="471.3" r="3.2"/><circle cx="487.1" cy="490.3" r="3.2"/><circle cx="492.3" cy="487.7" r="3.2"/><circle cx="497.5" cy="483.8" r="3.2"/><circle cx="502.7" cy="477.3" r="3.2"/><circle cx="507.9" cy="477.3" r="3.2"/><circle cx="513.9" cy="475.4" r="3.2"/><circle cx="519.1" cy="475.4" r="3.2"/><circle cx="524.5" cy="472.5" r="3.2"/><circle cx="529.9" cy="475" r="3.2"/><circle cx="541.3" cy="492.7" r="3.2"/><circle cx="552.5" cy="498.7" r="3.2"/><circle cx="562.9" cy="491.4" r="3.2"/><circle cx="574" cy="484.9" r="3.2"/><circle cx="584.9" cy="494" r="3.2"/><circle cx="590.1" cy="484.9" r="3.2"/><circle cx="595.8" cy="489.4" r="3.2"/><circle cx="601.8" cy="492" r="3.2"/><circle cx="607.5" cy="486.2" r="3.2"/><circle cx="612.2" cy="488.3" r="3.2"/><circle cx="618.2" cy="491.4" r="3.2"/><circle cx="623.9" cy="494" r="3.2"/><circle cx="629.1" cy="489.4" r="3.2"/><circle cx="634.8" cy="491.4" r="3.2"/><circle cx="640" cy="492" r="3.2"/><circle cx="646" cy="491.4" r="3.2"/><circle cx="652" cy="495.3" r="3.2"/></g>
<line x1="340.2" y1="313.8" x2="340.2" y2="547" stroke="#111" stroke-width="1.7" stroke-dasharray="6.3 7.15" stroke-dashoffset="1.2"/>
<path d="M103.4,315.5 V547.8 H677.9 V315.5" fill="none" stroke="#1c1c1c" stroke-width="2.0" stroke-linejoin="round"/><line x1="129.5" y1="547.8" x2="129.5" y2="552.3" stroke="#222" stroke-width="1.7"/><line x1="261.2" y1="547.8" x2="261.2" y2="552.3" stroke="#222" stroke-width="1.7"/><line x1="392.9" y1="547.8" x2="392.9" y2="552.3" stroke="#222" stroke-width="1.7"/><line x1="524.7" y1="547.8" x2="524.7" y2="552.3" stroke="#222" stroke-width="1.7"/><line x1="656.4" y1="547.8" x2="656.4" y2="552.3" stroke="#222" stroke-width="1.7"/>
<line x1="99.3" y1="375.3" x2="103.5" y2="375.3" stroke="#222" stroke-width="1.7"/><text transform="translate(94.5,380.5) scale(1.0,1)" text-anchor="end" font-family="Liberation Sans, sans-serif" font-size="14" fill="#555555">1.50e+01</text><line x1="99.3" y1="402.1" x2="103.5" y2="402.1" stroke="#222" stroke-width="1.7"/><text transform="translate(94.5,407.2) scale(1.0,1)" text-anchor="end" font-family="Liberation Sans, sans-serif" font-size="14" fill="#555555">1.25e+01</text><line x1="99.3" y1="428.8" x2="103.5" y2="428.8" stroke="#222" stroke-width="1.7"/><text transform="translate(94.5,434) scale(1.0,1)" text-anchor="end" font-family="Liberation Sans, sans-serif" font-size="14" fill="#555555">1.00e+01</text><line x1="99.3" y1="455.6" x2="103.5" y2="455.6" stroke="#222" stroke-width="1.7"/><text transform="translate(94.5,460.8) scale(1.0,1)" text-anchor="end" font-family="Liberation Sans, sans-serif" font-size="14" fill="#555555">7.50e+00</text><line x1="99.3" y1="482.3" x2="103.5" y2="482.3" stroke="#222" stroke-width="1.7"/><text transform="translate(94.5,487.5) scale(1.0,1)" text-anchor="end" font-family="Liberation Sans, sans-serif" font-size="14" fill="#555555">5.00e+00</text>
<line x1="677.9" y1="536.7" x2="682.1" y2="536.7" stroke="#222" stroke-width="1.7"/><text x="684.4" y="541.8" font-family="Liberation Sans, sans-serif" font-size="14" fill="#555555">0</text><line x1="677.9" y1="464.8" x2="682.1" y2="464.8" stroke="#222" stroke-width="1.7"/><text x="684.4" y="469.9" font-family="Liberation Sans, sans-serif" font-size="14" fill="#555555">300</text><line x1="677.9" y1="392.9" x2="682.1" y2="392.9" stroke="#222" stroke-width="1.7"/><text x="684.4" y="398" font-family="Liberation Sans, sans-serif" font-size="14" fill="#555555">600</text><line x1="677.9" y1="321" x2="682.1" y2="321" stroke="#222" stroke-width="1.7"/><text x="684.4" y="326.1" font-family="Liberation Sans, sans-serif" font-size="14" fill="#555555">900</text>
<text transform="translate(20.6,426.7) scale(1.06,1) rotate(-90)" text-anchor="middle" font-family="Liberation Serif, serif" font-size="22" fill="#111">Fx C<tspan font-size="14" dy="-9">-1</tspan><tspan dy="9"> (mg mg</tspan><tspan font-size="14" dy="-9">-1</tspan><tspan dy="9">)</tspan></text>
<text transform="translate(761.5,435) scale(1.06,1) rotate(-90)" text-anchor="middle" font-family="Liberation Serif, serif" font-size="21.8" fill="#111">Light (µmol m<tspan font-size="14" dy="-9">-2</tspan><tspan dy="9"> s</tspan><tspan font-size="14" dy="-9">-1</tspan><tspan dy="9">)</tspan></text>
<text x="2" y="578" font-family="Liberation Sans, sans-serif" font-weight="bold" font-size="14" fill="#000">C</text>
<text x="186.2" y="604.2" font-family="Liberation Serif, serif" font-size="17.6" textLength="66" lengthAdjust="spacingAndGlyphs" fill="#111">Repletion</text>
<text x="341.7" y="604.2" font-family="Liberation Serif, serif" font-size="17.6" textLength="67" lengthAdjust="spacingAndGlyphs" fill="#111">Depletion</text>
<rect x="384.1" y="569.3" width="10.8" height="4.4" fill="#1EAAEB"/><text x="396" y="576" font-family="Liberation Serif, serif" font-size="13.4" fill="#111">(Ddx+Dtx) C<tspan font-size="8" dy="-4.8">-1</tspan><tspan dy="4.8"> rep1</tspan></text>
<rect x="384.1" y="582.3" width="10.8" height="4.4" fill="#10E8F0"/><text x="396" y="589" font-family="Liberation Serif, serif" font-size="13.4" fill="#111">(Ddx+Dtx) C<tspan font-size="8" dy="-4.8">-1</tspan><tspan dy="4.8"> rep2</tspan></text>
<rect x="503.1" y="569.3" width="10.8" height="4.4" fill="#280000"/><text x="516.9" y="576" font-family="Liberation Serif, serif" font-size="13.4" fill="#111">Ddx C<tspan font-size="8" dy="-4.8">-1</tspan><tspan dy="4.8"> rep1</tspan></text>
<rect x="503.1" y="582.3" width="10.8" height="4.4" fill="#A51E19"/><text x="516.9" y="589" font-family="Liberation Serif, serif" font-size="13.4" fill="#111">Ddx C<tspan font-size="8" dy="-4.8">-1</tspan><tspan dy="4.8"> rep2</tspan></text>
<rect x="587.4" y="569.3" width="10.8" height="4.4" fill="#A0A0A0"/><text x="601.2" y="576" font-family="Liberation Serif, serif" font-size="13.4" fill="#111">Dtx C<tspan font-size="8" dy="-4.8">-1</tspan><tspan dy="4.8"> rep1</tspan></text>
<rect x="587.4" y="582.3" width="10.8" height="4.4" fill="#D7D7D7"/><text x="601.2" y="589" font-family="Liberation Serif, serif" font-size="13.4" fill="#111">Dtx C<tspan font-size="8" dy="-4.8">-1</tspan><tspan dy="4.8"> rep2</tspan></text>
<polyline points="129.4,810.3 134.6,798.8 140.3,663.7 146,621.1 151.1,663.7 157.1,795.3 162.3,807.9 167.8,811 194.7,811 200.4,802.6 206.4,663.7 211.6,622.3 216.8,663.7 222.5,789.2 227.7,808.7 233.1,811 261,811 266.2,802.6 272.2,673.3 277.6,634.8 283,673.3 288.2,787.6 293.4,808.7 298.9,811 326.5,811 331.8,802.6 337.8,663.9 343.5,621.1 348.7,663.9 353.9,787.6 359.4,808.7 364.9,811 391.9,811 397,802.6 402.7,663.9 408.7,613 413.9,654 420.1,787.9 425.6,808.7 431.1,811 453.2,811 457.7,802.6 462.9,666.1 469.4,615.4 474.6,658.8 480.5,786.6 486.2,808.7 491.7,811 518.1,811 523.7,802.6 528.9,666 540.3,617.4 545.5,724.5 551.5,807.7 557,811 561.8,811 583.9,811 589.5,804.8 594.7,673.3 600.9,619.9 606.3,658.7 617,808.5 622.5,811 622.8,811 649.9,811" fill="none" stroke="#98E898" stroke-width="1.9" stroke-linejoin="round"/>
<polyline points="135.5,806 140.9,805.5 146.4,805 151.9,802.8 157.3,801 162.2,809.1 167.7,809 173.7,809 178.6,809 183.7,811 189.2,809 194.6,808.5 200.1,806 206.5,806.4 211.9,803.7 217.4,803.7 222.9,804.5 228.3,809 233.8,809 239.2,809.5 244.7,809.5 250.2,809.5 255.6,809.5 261.8,809.5 266.7,809 271.8,806 276.9,797 282.4,802 288.2,797 293.7,809.5 299.5,809 304.6,809 310,809.5 315.5,809.5 321,809.5 326.5,809.5 332.3,809.5 338.3,803 343.2,785 348.3,797 354.1,797 359.2,808.5 365,808.5 370,809 375.5,809 381,809 386.5,809 392,807.5 397.8,801 403.7,784.6 408.2,773.7 413.7,781 419.1,798 424.6,806 430.6,805 436.4,807 441.9,807.5 447.4,806 452.8,804 458.3,808 463.4,800 468.8,775.5 474.7,760 479.8,786 484.7,797 490.1,805 496.5,800 502,806 507.4,799 512.9,800.8 518.2,801 524,800 529.1,800 540.2,780.4 551.3,792 561.7,796.4 572.8,799 584.1,798.9 594.8,793 600.1,774.5 611.4,769.6 616.3,785 622.2,795 628,794 633,797 638.7,797 644.6,799" fill="none" stroke="#D9D9D9" stroke-width="1.9" stroke-dasharray="0.1 5.6" stroke-linecap="round"/>
<g fill="none" stroke="#D9D9D9" stroke-width="1.2"><circle cx="135.5" cy="806" r="3.2"/><circle cx="140.9" cy="805.5" r="3.2"/><circle cx="146.4" cy="805" r="3.2"/><circle cx="151.9" cy="802.8" r="3.2"/><circle cx="157.3" cy="801" r="3.2"/><circle cx="162.2" cy="809.1" r="3.2"/><circle cx="167.7" cy="809" r="3.2"/><circle cx="173.7" cy="809" r="3.2"/><circle cx="178.6" cy="809" r="3.2"/><circle cx="183.7" cy="811" r="3.2"/><circle cx="189.2" cy="809" r="3.2"/><circle cx="194.6" cy="808.5" r="3.2"/><circle cx="200.1" cy="806" r="3.2"/><circle cx="206.5" cy="806.4" r="3.2"/><circle cx="211.9" cy="803.7" r="3.2"/><circle cx="217.4" cy="803.7" r="3.2"/><circle cx="222.9" cy="804.5" r="3.2"/><circle cx="228.3" cy="809" r="3.2"/><circle cx="233.8" cy="809" r="3.2"/><circle cx="239.2" cy="809.5" r="3.2"/><circle cx="244.7" cy="809.5" r="3.2"/><circle cx="250.2" cy="809.5" r="3.2"/><circle cx="255.6" cy="809.5" r="3.2"/><circle cx="261.8" cy="809.5" r="3.2"/><circle cx="266.7" cy="809" r="3.2"/><circle cx="271.8" cy="806" r="3.2"/><circle cx="276.9" cy="797" r="3.2"/><circle cx="282.4" cy="802" r="3.2"/><circle cx="288.2" cy="797" r="3.2"/><circle cx="293.7" cy="809.5" r="3.2"/><circle cx="299.5" cy="809" r="3.2"/><circle cx="304.6" cy="809" r="3.2"/><circle cx="310" cy="809.5" r="3.2"/><circle cx="315.5" cy="809.5" r="3.2"/><circle cx="321" cy="809.5" r="3.2"/><circle cx="326.5" cy="809.5" r="3.2"/><circle cx="332.3" cy="809.5" r="3.2"/><circle cx="338.3" cy="803" r="3.2"/><circle cx="343.2" cy="785" r="3.2"/><circle cx="348.3" cy="797" r="3.2"/><circle cx="354.1" cy="797" r="3.2"/><circle cx="359.2" cy="808.5" r="3.2"/><circle cx="365" cy="808.5" r="3.2"/><circle cx="370" cy="809" r="3.2"/><circle cx="375.5" cy="809" r="3.2"/><circle cx="381" cy="809" r="3.2"/><circle cx="386.5" cy="809" r="3.2"/><circle cx="392" cy="807.5" r="3.2"/><circle cx="397.8" cy="801" r="3.2"/><circle cx="403.7" cy="784.6" r="3.2"/><circle cx="408.2" cy="773.7" r="3.2"/><circle cx="413.7" cy="781" r="3.2"/><circle cx="419.1" cy="798" r="3.2"/><circle cx="424.6" cy="806" r="3.2"/><circle cx="430.6" cy="805" r="3.2"/><circle cx="436.4" cy="807" r="3.2"/><circle cx="441.9" cy="807.5" r="3.2"/><circle cx="447.4" cy="806" r="3.2"/><circle cx="452.8" cy="804" r="3.2"/><circle cx="458.3" cy="808" r="3.2"/><circle cx="463.4" cy="800" r="3.2"/><circle cx="468.8" cy="775.5" r="3.2"/><circle cx="474.7" cy="760" r="3.2"/><circle cx="479.8" cy="786" r="3.2"/><circle cx="484.7" cy="797" r="3.2"/><circle cx="490.1" cy="805" r="3.2"/><circle cx="496.5" cy="800" r="3.2"/><circle cx="502" cy="806" r="3.2"/><circle cx="507.4" cy="799" r="3.2"/><circle cx="512.9" cy="800.8" r="3.2"/><circle cx="518.2" cy="801" r="3.2"/><circle cx="524" cy="800" r="3.2"/><circle cx="529.1" cy="800" r="3.2"/><circle cx="540.2" cy="780.4" r="3.2"/><circle cx="551.3" cy="792" r="3.2"/><circle cx="561.7" cy="796.4" r="3.2"/><circle cx="572.8" cy="799" r="3.2"/><circle cx="584.1" cy="798.9" r="3.2"/><circle cx="594.8" cy="793" r="3.2"/><circle cx="600.1" cy="774.5" r="3.2"/><circle cx="611.4" cy="769.6" r="3.2"/><circle cx="616.3" cy="785" r="3.2"/><circle cx="622.2" cy="795" r="3.2"/><circle cx="628" cy="794" r="3.2"/><circle cx="633" cy="797" r="3.2"/><circle cx="638.7" cy="797" r="3.2"/><circle cx="644.6" cy="799" r="3.2"/></g>
<polyline points="129.5,803.1 135.5,803.7 140.4,801.9 146.4,802.4 151.3,795.5 157.3,797 162.2,806.4 167.7,807.3 173.7,807.3 178.6,806.4 184.1,807.3 189.2,808.2 194.3,807.3 200.1,804.2 206.5,798.8 211.9,798.2 217.4,798.2 222.9,800.6 228.3,807.3 233.8,807.3 239.2,807.5 244.7,808 250.2,808 255.6,807.8 261.8,808.7 266.7,807.2 271.8,802.9 276.9,791.9 282.4,799.6 288.2,792.3 293.7,808.3 299.5,806 304.6,807.2 310,807.5 315.5,808 321,808.3 326.5,808.3 332.3,808.3 338.3,798.7 343.2,777.4 348.3,793.8 354.1,791.4 359.2,806.5 365,806 370,807 375.5,807.4 381,807.4 386.5,807.2 392,806 397.8,797.9 403.7,796.4 409.1,788.2 414.2,791 419.1,795.5 424.6,803.7 430.6,798.3 436.4,804.6 441.9,805.5 447.4,802.8 452.8,800.1 458.3,806.4 463.4,794.6 468.8,783.7 474.7,770 479.8,781.5 484.7,792.8 490.1,802.8 496.5,796.4 502,803.7 507.4,794.6 512.9,805.7 518.2,797 524,804.7 529.1,795.6 540.2,794 551.3,787.2 561.7,803.8 572.8,798.9 584.1,806.1 594.8,801.8 605.6,788.2 616.3,780.4 622.2,796 627,802.8 632.9,796.9 638.7,804.7 644.6,798.9 650,806.1" fill="none" stroke="#ABABAB" stroke-width="1.9" stroke-dasharray="0.1 5.6" stroke-linecap="round"/>
<g fill="none" stroke="#ABABAB" stroke-width="1.1"><circle cx="129.5" cy="803.1" r="3.2"/><circle cx="135.5" cy="803.7" r="3.2"/><circle cx="140.4" cy="801.9" r="3.2"/><circle cx="146.4" cy="802.4" r="3.2"/><circle cx="151.3" cy="795.5" r="3.2"/><circle cx="157.3" cy="797" r="3.2"/><circle cx="162.2" cy="806.4" r="3.2"/><circle cx="167.7" cy="807.3" r="3.2"/><circle cx="173.7" cy="807.3" r="3.2"/><circle cx="178.6" cy="806.4" r="3.2"/><circle cx="184.1" cy="807.3" r="3.2"/><circle cx="189.2" cy="808.2" r="3.2"/><circle cx="194.3" cy="807.3" r="3.2"/><circle cx="200.1" cy="804.2" r="3.2"/><circle cx="206.5" cy="798.8" r="3.2"/><circle cx="211.9" cy="798.2" r="3.2"/><circle cx="217.4" cy="798.2" r="3.2"/><circle cx="222.9" cy="800.6" r="3.2"/><circle cx="228.3" cy="807.3" r="3.2"/><circle cx="233.8" cy="807.3" r="3.2"/><circle cx="239.2" cy="807.5" r="3.2"/><circle cx="244.7" cy="808" r="3.2"/><circle cx="250.2" cy="808" r="3.2"/><circle cx="255.6" cy="807.8" r="3.2"/><circle cx="261.8" cy="808.7" r="3.2"/><circle cx="266.7" cy="807.2" r="3.2"/><circle cx="271.8" cy="802.9" r="3.2"/><circle cx="276.9" cy="791.9" r="3.2"/><circle cx="282.4" cy="799.6" r="3.2"/><circle cx="288.2" cy="792.3" r="3.2"/><circle cx="293.7" cy="808.3" r="3.2"/><circle cx="299.5" cy="806" r="3.2"/><circle cx="304.6" cy="807.2" r="3.2"/><circle cx="310" cy="807.5" r="3.2"/><circle cx="315.5" cy="808" r="3.2"/><circle cx="321" cy="808.3" r="3.2"/><circle cx="326.5" cy="808.3" r="3.2"/><circle cx="332.3" cy="808.3" r="3.2"/><circle cx="338.3" cy="798.7" r="3.2"/><circle cx="343.2" cy="777.4" r="3.2"/><circle cx="348.3" cy="793.8" r="3.2"/><circle cx="354.1" cy="791.4" r="3.2"/><circle cx="359.2" cy="806.5" r="3.2"/><circle cx="365" cy="806" r="3.2"/><circle cx="370" cy="807" r="3.2"/><circle cx="375.5" cy="807.4" r="3.2"/><circle cx="381" cy="807.4" r="3.2"/><circle cx="386.5" cy="807.2" r="3.2"/><circle cx="392" cy="806" r="3.2"/><circle cx="397.8" cy="797.9" r="3.2"/><circle cx="403.7" cy="796.4" r="3.2"/><circle cx="409.1" cy="788.2" r="3.2"/><circle cx="414.2" cy="791" r="3.2"/><circle cx="419.1" cy="795.5" r="3.2"/><circle cx="424.6" cy="803.7" r="3.2"/><circle cx="430.6" cy="798.3" r="3.2"/><circle cx="436.4" cy="804.6" r="3.2"/><circle cx="441.9" cy="805.5" r="3.2"/><circle cx="447.4" cy="802.8" r="3.2"/><circle cx="452.8" cy="800.1" r="3.2"/><circle cx="458.3" cy="806.4" r="3.2"/><circle cx="463.4" cy="794.6" r="3.2"/><circle cx="468.8" cy="783.7" r="3.2"/><circle cx="474.7" cy="770" r="3.2"/><circle cx="479.8" cy="781.5" r="3.2"/><circle cx="484.7" cy="792.8" r="3.2"/><circle cx="490.1" cy="802.8" r="3.2"/><circle cx="496.5" cy="796.4" r="3.2"/><circle cx="502" cy="803.7" r="3.2"/><circle cx="507.4" cy="794.6" r="3.2"/><circle cx="512.9" cy="805.7" r="3.2"/><circle cx="518.2" cy="797" r="3.2"/><circle cx="524" cy="804.7" r="3.2"/><circle cx="529.1" cy="795.6" r="3.2"/><circle cx="540.2" cy="794" r="3.2"/><circle cx="551.3" cy="787.2" r="3.2"/><circle cx="561.7" cy="803.8" r="3.2"/><circle cx="572.8" cy="798.9" r="3.2"/><circle cx="584.1" cy="806.1" r="3.2"/><circle cx="594.8" cy="801.8" r="3.2"/><circle cx="605.6" cy="788.2" r="3.2"/><circle cx="616.3" cy="780.4" r="3.2"/><circle cx="622.2" cy="796" r="3.2"/><circle cx="627" cy="802.8" r="3.2"/><circle cx="632.9" cy="796.9" r="3.2"/><circle cx="638.7" cy="804.7" r="3.2"/><circle cx="644.6" cy="798.9" r="3.2"/><circle cx="650" cy="806.1" r="3.2"/></g>
<polyline points="134.2,734.1 140.9,739.2 157.3,706.8 162.2,708.3 167.7,727.4 173.7,729.7 179.2,721.9 184.1,721 190.1,726.5 194.6,728.3 200.1,733.7 206.5,729.7 211.9,702.8 222.9,691.9 229.2,699.2 233.8,725.5 239.2,720.1 244.7,723.7 255.6,726.5 265.5,737.3 272.2,749.1 277.3,712.8 282.8,720.1 288.2,722.8 293.7,719.2 299.2,730.1 304.6,718.3 310.1,719.2 315.5,718.3 321.4,726.5 326.5,717.4 331.9,717.4 343.8,712.8 349.2,720.1 354.7,724.6 359.2,717.4 365,728.3 370.2,724.6 375.6,706.4 381.1,708.3 386.9,704.6 392,712 397.8,716 403.7,724.6 408.2,739.2 414.2,758.3 420.4,758.3 425.5,745.6 431,739.2 436.4,734.1 441.9,727.4 447,722 452.8,730.1 458.3,731.9 463.7,723.7 469.2,744.7 474.5,757 479.2,766.5 485.6,768.3 491,759.2 496.5,748.3 502,742.8 507.4,747.4 512.9,740.1 518.2,748.3 523.7,741.9 529.1,739.2 540,765.6 551.5,770.2 561.9,754.7 572.8,753.8 583.7,750 589.2,743.8 595.2,745.6 601,762.9 606.5,782 611.6,784.7 617.4,777.4 622.9,763.8 628.3,757.4 633.8,753.8 638.9,750.1 644.4,747.4" fill="none" stroke="#A51E19" stroke-width="1.9" stroke-dasharray="0.1 5.6" stroke-linecap="round"/>
<g fill="none" stroke="#A51E19" stroke-width="1.3"><circle cx="134.2" cy="734.1" r="3.2"/><circle cx="140.9" cy="739.2" r="3.2"/><circle cx="157.3" cy="706.8" r="3.2"/><circle cx="162.2" cy="708.3" r="3.2"/><circle cx="167.7" cy="727.4" r="3.2"/><circle cx="173.7" cy="729.7" r="3.2"/><circle cx="179.2" cy="721.9" r="3.2"/><circle cx="184.1" cy="721" r="3.2"/><circle cx="190.1" cy="726.5" r="3.2"/><circle cx="194.6" cy="728.3" r="3.2"/><circle cx="200.1" cy="733.7" r="3.2"/><circle cx="206.5" cy="729.7" r="3.2"/><circle cx="211.9" cy="702.8" r="3.2"/><circle cx="222.9" cy="691.9" r="3.2"/><circle cx="229.2" cy="699.2" r="3.2"/><circle cx="233.8" cy="725.5" r="3.2"/><circle cx="239.2" cy="720.1" r="3.2"/><circle cx="244.7" cy="723.7" r="3.2"/><circle cx="255.6" cy="726.5" r="3.2"/><circle cx="265.5" cy="737.3" r="3.2"/><circle cx="272.2" cy="749.1" r="3.2"/><circle cx="277.3" cy="712.8" r="3.2"/><circle cx="282.8" cy="720.1" r="3.2"/><circle cx="288.2" cy="722.8" r="3.2"/><circle cx="293.7" cy="719.2" r="3.2"/><circle cx="299.2" cy="730.1" r="3.2"/><circle cx="304.6" cy="718.3" r="3.2"/><circle cx="310.1" cy="719.2" r="3.2"/><circle cx="315.5" cy="718.3" r="3.2"/><circle cx="321.4" cy="726.5" r="3.2"/><circle cx="326.5" cy="717.4" r="3.2"/><circle cx="331.9" cy="717.4" r="3.2"/><circle cx="343.8" cy="712.8" r="3.2"/><circle cx="349.2" cy="720.1" r="3.2"/><circle cx="354.7" cy="724.6" r="3.2"/><circle cx="359.2" cy="717.4" r="3.2"/><circle cx="365" cy="728.3" r="3.2"/><circle cx="370.2" cy="724.6" r="3.2"/><circle cx="375.6" cy="706.4" r="3.2"/><circle cx="381.1" cy="708.3" r="3.2"/><circle cx="386.9" cy="704.6" r="3.2"/><circle cx="392" cy="712" r="3.2"/><circle cx="397.8" cy="716" r="3.2"/><circle cx="403.7" cy="724.6" r="3.2"/><circle cx="408.2" cy="739.2" r="3.2"/><circle cx="414.2" cy="758.3" r="3.2"/><circle cx="420.4" cy="758.3" r="3.2"/><circle cx="425.5" cy="745.6" r="3.2"/><circle cx="431" cy="739.2" r="3.2"/><circle cx="436.4" cy="734.1" r="3.2"/><circle cx="441.9" cy="727.4" r="3.2"/><circle cx="447" cy="722" r="3.2"/><circle cx="452.8" cy="730.1" r="3.2"/><circle cx="458.3" cy="731.9" r="3.2"/><circle cx="463.7" cy="723.7" r="3.2"/><circle cx="469.2" cy="744.7" r="3.2"/><circle cx="474.5" cy="757" r="3.2"/><circle cx="479.2" cy="766.5" r="3.2"/><circle cx="485.6" cy="768.3" r="3.2"/><circle cx="491" cy="759.2" r="3.2"/><circle cx="496.5" cy="748.3" r="3.2"/><circle cx="502" cy="742.8" r="3.2"/><circle cx="507.4" cy="747.4" r="3.2"/><circle cx="512.9" cy="740.1" r="3.2"/><circle cx="518.2" cy="748.3" r="3.2"/><circle cx="523.7" cy="741.9" r="3.2"/><circle cx="529.1" cy="739.2" r="3.2"/><circle cx="540" cy="765.6" r="3.2"/><circle cx="551.5" cy="770.2" r="3.2"/><circle cx="561.9" cy="754.7" r="3.2"/><circle cx="572.8" cy="753.8" r="3.2"/><circle cx="583.7" cy="750" r="3.2"/><circle cx="589.2" cy="743.8" r="3.2"/><circle cx="595.2" cy="745.6" r="3.2"/><circle cx="601" cy="762.9" r="3.2"/><circle cx="606.5" cy="782" r="3.2"/><circle cx="611.6" cy="784.7" r="3.2"/><circle cx="617.4" cy="777.4" r="3.2"/><circle cx="622.9" cy="763.8" r="3.2"/><circle cx="628.3" cy="757.4" r="3.2"/><circle cx="633.8" cy="753.8" r="3.2"/><circle cx="638.9" cy="750.1" r="3.2"/><circle cx="644.4" cy="747.4" r="3.2"/></g>
<polyline points="140.9,730.1 145.9,714.6 151,695 156.4,683.7 162.2,697.7 167.3,718.3 173.7,712.8 178.6,708 184.1,703.2 189.5,712.8 194.6,709.2 200.3,720 205.6,722 211.9,706.4 216.5,710.1 222.9,708.3 228.3,711.9 233.8,720.1 239.2,716 245.6,701 250.2,701 256.2,711.9 261.3,716 266.4,722 271.8,736 277.3,700 282.8,693.7 288.2,683.7 293.7,698.2 299.2,708.3 304.6,702.8 310.1,695.5 315.9,692.8 321.4,709.2 326.5,715 331.9,718 338.3,726.5 343.8,719.2 349.2,720.1 354.5,712 359.2,698.2 365,706.4 370.2,710.1 375.6,710 381.1,704.6 386.9,702.8 392.7,712 397.8,716.4 403.7,728.3 408.8,751 414.2,758.3 419.7,745.6 425.1,735.6 430.6,712.8 436.1,705.5 441.5,718 447.4,718.3 452.5,691.9 457.9,704.6 464.1,724.6 469.2,736.5 474.7,766.5 480.1,759.2 485.6,768 491,755.6 496.5,740 502.9,726.5 507.4,721 512.9,720.1 518.2,718.8 523.7,716.4 529.1,726.5 540,760.1 561.9,753.8 572.8,735.6 583.7,750.1 589.2,734.7 600.7,769.2 606.1,773.8 617.4,772 622.9,753.8 628.3,741.9 633.8,743.8 638.9,743.8 644.4,741 650,748.3" fill="none" stroke="#280000" stroke-width="1.9" stroke-dasharray="0.1 5.6" stroke-linecap="round"/>
<g fill="none" stroke="#280000" stroke-width="1.3"><circle cx="140.9" cy="730.1" r="3.2"/><circle cx="145.9" cy="714.6" r="3.2"/><circle cx="151" cy="695" r="3.2"/><circle cx="156.4" cy="683.7" r="3.2"/><circle cx="162.2" cy="697.7" r="3.2"/><circle cx="167.3" cy="718.3" r="3.2"/><circle cx="173.7" cy="712.8" r="3.2"/><circle cx="178.6" cy="708" r="3.2"/><circle cx="184.1" cy="703.2" r="3.2"/><circle cx="189.5" cy="712.8" r="3.2"/><circle cx="194.6" cy="709.2" r="3.2"/><circle cx="200.3" cy="720" r="3.2"/><circle cx="205.6" cy="722" r="3.2"/><circle cx="211.9" cy="706.4" r="3.2"/><circle cx="216.5" cy="710.1" r="3.2"/><circle cx="222.9" cy="708.3" r="3.2"/><circle cx="228.3" cy="711.9" r="3.2"/><circle cx="233.8" cy="720.1" r="3.2"/><circle cx="239.2" cy="716" r="3.2"/><circle cx="245.6" cy="701" r="3.2"/><circle cx="250.2" cy="701" r="3.2"/><circle cx="256.2" cy="711.9" r="3.2"/><circle cx="261.3" cy="716" r="3.2"/><circle cx="266.4" cy="722" r="3.2"/><circle cx="271.8" cy="736" r="3.2"/><circle cx="277.3" cy="700" r="3.2"/><circle cx="282.8" cy="693.7" r="3.2"/><circle cx="288.2" cy="683.7" r="3.2"/><circle cx="293.7" cy="698.2" r="3.2"/><circle cx="299.2" cy="708.3" r="3.2"/><circle cx="304.6" cy="702.8" r="3.2"/><circle cx="310.1" cy="695.5" r="3.2"/><circle cx="315.9" cy="692.8" r="3.2"/><circle cx="321.4" cy="709.2" r="3.2"/><circle cx="326.5" cy="715" r="3.2"/><circle cx="331.9" cy="718" r="3.2"/><circle cx="338.3" cy="726.5" r="3.2"/><circle cx="343.8" cy="719.2" r="3.2"/><circle cx="349.2" cy="720.1" r="3.2"/><circle cx="354.5" cy="712" r="3.2"/><circle cx="359.2" cy="698.2" r="3.2"/><circle cx="365" cy="706.4" r="3.2"/><circle cx="370.2" cy="710.1" r="3.2"/><circle cx="375.6" cy="710" r="3.2"/><circle cx="381.1" cy="704.6" r="3.2"/><circle cx="386.9" cy="702.8" r="3.2"/><circle cx="392.7" cy="712" r="3.2"/><circle cx="397.8" cy="716.4" r="3.2"/><circle cx="403.7" cy="728.3" r="3.2"/><circle cx="408.8" cy="751" r="3.2"/><circle cx="414.2" cy="758.3" r="3.2"/><circle cx="419.7" cy="745.6" r="3.2"/><circle cx="425.1" cy="735.6" r="3.2"/><circle cx="430.6" cy="712.8" r="3.2"/><circle cx="436.1" cy="705.5" r="3.2"/><circle cx="441.5" cy="718" r="3.2"/><circle cx="447.4" cy="718.3" r="3.2"/><circle cx="452.5" cy="691.9" r="3.2"/><circle cx="457.9" cy="704.6" r="3.2"/><circle cx="464.1" cy="724.6" r="3.2"/><circle cx="469.2" cy="736.5" r="3.2"/><circle cx="474.7" cy="766.5" r="3.2"/><circle cx="480.1" cy="759.2" r="3.2"/><circle cx="485.6" cy="768" r="3.2"/><circle cx="491" cy="755.6" r="3.2"/><circle cx="496.5" cy="740" r="3.2"/><circle cx="502.9" cy="726.5" r="3.2"/><circle cx="507.4" cy="721" r="3.2"/><circle cx="512.9" cy="720.1" r="3.2"/><circle cx="518.2" cy="718.8" r="3.2"/><circle cx="523.7" cy="716.4" r="3.2"/><circle cx="529.1" cy="726.5" r="3.2"/><circle cx="540" cy="760.1" r="3.2"/><circle cx="561.9" cy="753.8" r="3.2"/><circle cx="572.8" cy="735.6" r="3.2"/><circle cx="583.7" cy="750.1" r="3.2"/><circle cx="589.2" cy="734.7" r="3.2"/><circle cx="600.7" cy="769.2" r="3.2"/><circle cx="606.1" cy="773.8" r="3.2"/><circle cx="617.4" cy="772" r="3.2"/><circle cx="622.9" cy="753.8" r="3.2"/><circle cx="628.3" cy="741.9" r="3.2"/><circle cx="633.8" cy="743.8" r="3.2"/><circle cx="638.9" cy="743.8" r="3.2"/><circle cx="644.4" cy="741" r="3.2"/><circle cx="650" cy="748.3" r="3.2"/></g>
<polyline points="134.9,728.3 140.9,730.1 145.9,716 151,700 157.3,697.3 161.9,705.5 167.7,718.3 173.2,725.5 178.6,718.3 184.1,720.1 189.5,724.6 195,723.7 200.5,726.5 205.6,722.8 211,693.7 216.5,699.2 221.9,694.6 228.3,699.2 233.8,718.3 239.2,718.3 244.7,719.2 250.2,717.4 255.8,718.3 261.3,719.2 265.5,731.8 271.8,743.7 277.3,693.7 282.8,708.3 288.2,703.7 293.7,716.4 299.2,724.6 304.6,715.5 310.1,714.6 315.5,714.6 321.4,721.9 326.5,711.9 331.9,711 337.5,712 343.2,684.6 349.2,706.4 354.7,708.3 360.1,711.9 365,722.8 370.2,714.6 375.6,702.8 381.1,705.5 386.9,702.8 392.7,700.1 397.8,700.1 403.7,713.7 408.8,703.7 414.2,727.4 419.7,735.6 425.1,736.5 430.6,731 436.1,724.6 441.5,719.2 447,712.8 452.8,722.8 458.3,724.6 463.7,713.7 469.2,710.1 474.7,733.7 480.1,728.3 485.2,745.6 490.1,746.5 496.5,731.9 501.6,735.6 507.4,733.7 512.7,731 518.2,740.1 523.7,731 529.1,726.5 540.6,737.4 551.5,746.5 562.4,742.8 572.8,740.1 583.7,745.6 589.2,733.7 594.7,730.1 601,728.6 606.5,744.7 612,754.7 617.4,755.6 622.9,742.8 628.3,742.8 633.8,742 638.9,736 644.4,742.8 650,745" fill="none" stroke="#1EAAEB" stroke-width="1.4" stroke-linejoin="round"/>
<g fill="none" stroke="#1EAAEB" stroke-width="1.3"><circle cx="134.9" cy="728.3" r="3.2"/><circle cx="140.9" cy="730.1" r="3.2"/><circle cx="145.9" cy="716" r="3.2"/><circle cx="151" cy="700" r="3.2"/><circle cx="157.3" cy="697.3" r="3.2"/><circle cx="161.9" cy="705.5" r="3.2"/><circle cx="167.7" cy="718.3" r="3.2"/><circle cx="173.2" cy="725.5" r="3.2"/><circle cx="178.6" cy="718.3" r="3.2"/><circle cx="184.1" cy="720.1" r="3.2"/><circle cx="189.5" cy="724.6" r="3.2"/><circle cx="195" cy="723.7" r="3.2"/><circle cx="200.5" cy="726.5" r="3.2"/><circle cx="205.6" cy="722.8" r="3.2"/><circle cx="211" cy="693.7" r="3.2"/><circle cx="216.5" cy="699.2" r="3.2"/><circle cx="221.9" cy="694.6" r="3.2"/><circle cx="228.3" cy="699.2" r="3.2"/><circle cx="233.8" cy="718.3" r="3.2"/><circle cx="239.2" cy="718.3" r="3.2"/><circle cx="244.7" cy="719.2" r="3.2"/><circle cx="250.2" cy="717.4" r="3.2"/><circle cx="255.8" cy="718.3" r="3.2"/><circle cx="261.3" cy="719.2" r="3.2"/><circle cx="265.5" cy="731.8" r="3.2"/><circle cx="271.8" cy="743.7" r="3.2"/><circle cx="277.3" cy="693.7" r="3.2"/><circle cx="282.8" cy="708.3" r="3.2"/><circle cx="288.2" cy="703.7" r="3.2"/><circle cx="293.7" cy="716.4" r="3.2"/><circle cx="299.2" cy="724.6" r="3.2"/><circle cx="304.6" cy="715.5" r="3.2"/><circle cx="310.1" cy="714.6" r="3.2"/><circle cx="315.5" cy="714.6" r="3.2"/><circle cx="321.4" cy="721.9" r="3.2"/><circle cx="326.5" cy="711.9" r="3.2"/><circle cx="331.9" cy="711" r="3.2"/><circle cx="337.5" cy="712" r="3.2"/><circle cx="343.2" cy="684.6" r="3.2"/><circle cx="349.2" cy="706.4" r="3.2"/><circle cx="354.7" cy="708.3" r="3.2"/><circle cx="360.1" cy="711.9" r="3.2"/><circle cx="365" cy="722.8" r="3.2"/><circle cx="370.2" cy="714.6" r="3.2"/><circle cx="375.6" cy="702.8" r="3.2"/><circle cx="381.1" cy="705.5" r="3.2"/><circle cx="386.9" cy="702.8" r="3.2"/><circle cx="392.7" cy="700.1" r="3.2"/><circle cx="397.8" cy="700.1" r="3.2"/><circle cx="403.7" cy="713.7" r="3.2"/><circle cx="408.8" cy="703.7" r="3.2"/><circle cx="414.2" cy="727.4" r="3.2"/><circle cx="419.7" cy="735.6" r="3.2"/><circle cx="425.1" cy="736.5" r="3.2"/><circle cx="430.6" cy="731" r="3.2"/><circle cx="436.1" cy="724.6" r="3.2"/><circle cx="441.5" cy="719.2" r="3.2"/><circle cx="447" cy="712.8" r="3.2"/><circle cx="452.8" cy="722.8" r="3.2"/><circle cx="458.3" cy="724.6" r="3.2"/><circle cx="463.7" cy="713.7" r="3.2"/><circle cx="469.2" cy="710.1" r="3.2"/><circle cx="474.7" cy="733.7" r="3.2"/><circle cx="480.1" cy="728.3" r="3.2"/><circle cx="485.2" cy="745.6" r="3.2"/><circle cx="490.1" cy="746.5" r="3.2"/><circle cx="496.5" cy="731.9" r="3.2"/><circle cx="501.6" cy="735.6" r="3.2"/><circle cx="507.4" cy="733.7" r="3.2"/><circle cx="512.7" cy="731" r="3.2"/><circle cx="518.2" cy="740.1" r="3.2"/><circle cx="523.7" cy="731" r="3.2"/><circle cx="529.1" cy="726.5" r="3.2"/><circle cx="540.6" cy="737.4" r="3.2"/><circle cx="551.5" cy="746.5" r="3.2"/><circle cx="562.4" cy="742.8" r="3.2"/><circle cx="572.8" cy="740.1" r="3.2"/><circle cx="583.7" cy="745.6" r="3.2"/><circle cx="589.2" cy="733.7" r="3.2"/><circle cx="594.7" cy="730.1" r="3.2"/><circle cx="601" cy="728.6" r="3.2"/><circle cx="606.5" cy="744.7" r="3.2"/><circle cx="612" cy="754.7" r="3.2"/><circle cx="617.4" cy="755.6" r="3.2"/><circle cx="622.9" cy="742.8" r="3.2"/><circle cx="628.3" cy="742.8" r="3.2"/><circle cx="633.8" cy="742" r="3.2"/><circle cx="638.9" cy="736" r="3.2"/><circle cx="644.4" cy="742.8" r="3.2"/><circle cx="650" cy="745" r="3.2"/></g>
<polyline points="134.9,727.4 145.5,705.5 150.6,671.5 156.8,668.2 162.8,692.2 167.7,717.4 173.7,711 178.6,702.8 184.1,698.2 189.5,706.8 195,704.6 200.5,717.4 205.6,719.2 211,691 215.6,692.8 222.9,679.1 228.9,698.2 234.3,714.6 239.2,716.4 244.7,695.5 250.2,697 255.8,712.8 261.3,716.4 266.4,710.1 271.5,730.1 277.3,680 282.8,690 288.2,665.5 293.7,694.6 299.2,703.7 304.6,698.2 310.1,691 315.9,688.2 321.4,706.4 326.5,711.9 331.9,710.1 337.5,715 343.2,684.6 348.3,704.6 354.1,687.3 359.2,691.9 365,701 370.2,711 375.6,698.2 381.1,699.2 386.9,695.5 392.7,697.7 397.8,693.7 403.7,693.7 408.8,702.8 414.2,737.4 419.7,731 425.1,730.1 430.1,699.2 436.1,700.1 441.5,719.2 447,705.5 452.8,681.9 458.3,700.1 463.4,711.9 469.2,709.2 474.7,714.6 480.1,730.1 485.2,749.2 491,749.8 496.5,724.6 501.6,719.2 507.4,706.4 512.9,709 518.2,704.3 523.7,708.3 529.1,709.2 540.6,735.6 551.5,746.5 562.4,740.1 572.8,723.7 583.7,734.7 589.2,723.7 595.6,727.4 601,725.5 606.5,746.5 612,734.7 617.4,752.9 622.9,737.4 628.3,731.9 633.8,729.2 638.9,735.6 644.4,728.3 650,742.7" fill="none" stroke="#10E8F0" stroke-width="1.4" stroke-linejoin="round"/>
<g fill="none" stroke="#10E8F0" stroke-width="1.3"><circle cx="134.9" cy="727.4" r="3.2"/><circle cx="145.5" cy="705.5" r="3.2"/><circle cx="150.6" cy="671.5" r="3.2"/><circle cx="156.8" cy="668.2" r="3.2"/><circle cx="162.8" cy="692.2" r="3.2"/><circle cx="167.7" cy="717.4" r="3.2"/><circle cx="173.7" cy="711" r="3.2"/><circle cx="178.6" cy="702.8" r="3.2"/><circle cx="184.1" cy="698.2" r="3.2"/><circle cx="189.5" cy="706.8" r="3.2"/><circle cx="195" cy="704.6" r="3.2"/><circle cx="200.5" cy="717.4" r="3.2"/><circle cx="205.6" cy="719.2" r="3.2"/><circle cx="211" cy="691" r="3.2"/><circle cx="215.6" cy="692.8" r="3.2"/><circle cx="222.9" cy="679.1" r="3.2"/><circle cx="228.9" cy="698.2" r="3.2"/><circle cx="234.3" cy="714.6" r="3.2"/><circle cx="239.2" cy="716.4" r="3.2"/><circle cx="244.7" cy="695.5" r="3.2"/><circle cx="250.2" cy="697" r="3.2"/><circle cx="255.8" cy="712.8" r="3.2"/><circle cx="261.3" cy="716.4" r="3.2"/><circle cx="266.4" cy="710.1" r="3.2"/><circle cx="271.5" cy="730.1" r="3.2"/><circle cx="277.3" cy="680" r="3.2"/><circle cx="282.8" cy="690" r="3.2"/><circle cx="288.2" cy="665.5" r="3.2"/><circle cx="293.7" cy="694.6" r="3.2"/><circle cx="299.2" cy="703.7" r="3.2"/><circle cx="304.6" cy="698.2" r="3.2"/><circle cx="310.1" cy="691" r="3.2"/><circle cx="315.9" cy="688.2" r="3.2"/><circle cx="321.4" cy="706.4" r="3.2"/><circle cx="326.5" cy="711.9" r="3.2"/><circle cx="331.9" cy="710.1" r="3.2"/><circle cx="337.5" cy="715" r="3.2"/><circle cx="343.2" cy="684.6" r="3.2"/><circle cx="348.3" cy="704.6" r="3.2"/><circle cx="354.1" cy="687.3" r="3.2"/><circle cx="359.2" cy="691.9" r="3.2"/><circle cx="365" cy="701" r="3.2"/><circle cx="370.2" cy="711" r="3.2"/><circle cx="375.6" cy="698.2" r="3.2"/><circle cx="381.1" cy="699.2" r="3.2"/><circle cx="386.9" cy="695.5" r="3.2"/><circle cx="392.7" cy="697.7" r="3.2"/><circle cx="397.8" cy="693.7" r="3.2"/><circle cx="403.7" cy="693.7" r="3.2"/><circle cx="408.8" cy="702.8" r="3.2"/><circle cx="414.2" cy="737.4" r="3.2"/><circle cx="419.7" cy="731" r="3.2"/><circle cx="425.1" cy="730.1" r="3.2"/><circle cx="430.1" cy="699.2" r="3.2"/><circle cx="436.1" cy="700.1" r="3.2"/><circle cx="441.5" cy="719.2" r="3.2"/><circle cx="447" cy="705.5" r="3.2"/><circle cx="452.8" cy="681.9" r="3.2"/><circle cx="458.3" cy="700.1" r="3.2"/><circle cx="463.4" cy="711.9" r="3.2"/><circle cx="469.2" cy="709.2" r="3.2"/><circle cx="474.7" cy="714.6" r="3.2"/><circle cx="480.1" cy="730.1" r="3.2"/><circle cx="485.2" cy="749.2" r="3.2"/><circle cx="491" cy="749.8" r="3.2"/><circle cx="496.5" cy="724.6" r="3.2"/><circle cx="501.6" cy="719.2" r="3.2"/><circle cx="507.4" cy="706.4" r="3.2"/><circle cx="512.9" cy="709" r="3.2"/><circle cx="518.2" cy="704.3" r="3.2"/><circle cx="523.7" cy="708.3" r="3.2"/><circle cx="529.1" cy="709.2" r="3.2"/><circle cx="540.6" cy="735.6" r="3.2"/><circle cx="551.5" cy="746.5" r="3.2"/><circle cx="562.4" cy="740.1" r="3.2"/><circle cx="572.8" cy="723.7" r="3.2"/><circle cx="583.7" cy="734.7" r="3.2"/><circle cx="589.2" cy="723.7" r="3.2"/><circle cx="595.6" cy="727.4" r="3.2"/><circle cx="601" cy="725.5" r="3.2"/><circle cx="606.5" cy="746.5" r="3.2"/><circle cx="612" cy="734.7" r="3.2"/><circle cx="617.4" cy="752.9" r="3.2"/><circle cx="622.9" cy="737.4" r="3.2"/><circle cx="628.3" cy="731.9" r="3.2"/><circle cx="633.8" cy="729.2" r="3.2"/><circle cx="638.9" cy="735.6" r="3.2"/><circle cx="644.4" cy="728.3" r="3.2"/><circle cx="650" cy="742.7" r="3.2"/></g>
<line x1="339.8" y1="602.8" x2="339.8" y2="820.5" stroke="#111" stroke-width="1.7" stroke-dasharray="6.3 7.2" stroke-dashoffset="3.7"/>
<path d="M103.6,603 V821.6 H676.7 V603" fill="none" stroke="#1c1c1c" stroke-width="2.0" stroke-linejoin="round"/><line x1="129.5" y1="821.6" x2="129.5" y2="826.1" stroke="#222" stroke-width="1.7"/><line x1="260.9" y1="821.6" x2="260.9" y2="826.1" stroke="#222" stroke-width="1.7"/><line x1="392.3" y1="821.6" x2="392.3" y2="826.1" stroke="#222" stroke-width="1.7"/><line x1="523.7" y1="821.6" x2="523.7" y2="826.1" stroke="#222" stroke-width="1.7"/><line x1="655.1" y1="821.6" x2="655.1" y2="826.1" stroke="#222" stroke-width="1.7"/>
<line x1="99.39999999999999" y1="658.1" x2="103.6" y2="658.1" stroke="#222" stroke-width="1.7"/><text transform="translate(94.6,663.3) scale(1.0,1)" text-anchor="end" font-family="Liberation Sans, sans-serif" font-size="14" fill="#555555">4.5e+00</text><line x1="99.39999999999999" y1="692.1" x2="103.6" y2="692.1" stroke="#222" stroke-width="1.7"/><text transform="translate(94.6,697.4) scale(1.0,1)" text-anchor="end" font-family="Liberation Sans, sans-serif" font-size="14" fill="#555555">3.5e+00</text><line x1="99.39999999999999" y1="726.2" x2="103.6" y2="726.2" stroke="#222" stroke-width="1.7"/><text transform="translate(94.6,731.4) scale(1.0,1)" text-anchor="end" font-family="Liberation Sans, sans-serif" font-size="14" fill="#555555">2.5e+00</text><line x1="99.39999999999999" y1="760.2" x2="103.6" y2="760.2" stroke="#222" stroke-width="1.7"/><text transform="translate(94.6,765.5) scale(1.0,1)" text-anchor="end" font-family="Liberation Sans, sans-serif" font-size="14" fill="#555555">1.5e+00</text><line x1="99.39999999999999" y1="794.3" x2="103.6" y2="794.3" stroke="#222" stroke-width="1.7"/><text transform="translate(94.6,799.5) scale(1.0,1)" text-anchor="end" font-family="Liberation Sans, sans-serif" font-size="14" fill="#555555">5.0e-01</text>
<text x="129.5" y="841.8" text-anchor="middle" font-family="Liberation Sans, sans-serif" font-size="14.2" fill="#555555">0</text>
<text x="260.9" y="841.8" text-anchor="middle" font-family="Liberation Sans, sans-serif" font-size="14.2" fill="#555555">2</text>
<text x="392.3" y="841.8" text-anchor="middle" font-family="Liberation Sans, sans-serif" font-size="14.2" fill="#555555">4</text>
<text x="523.7" y="841.8" text-anchor="middle" font-family="Liberation Sans, sans-serif" font-size="14.2" fill="#555555">6</text>
<text x="655.1" y="841.8" text-anchor="middle" font-family="Liberation Sans, sans-serif" font-size="14.2" fill="#555555">8</text>
<text x="361.9" y="878.5" font-family="Liberation Serif, serif" font-size="21" fill="#111">Days</text>
<text transform="translate(22.8,740) scale(1.06,1) rotate(-90)" text-anchor="middle" font-family="Liberation Serif, serif" font-size="22" fill="#111">(Ddx+Dtx) C<tspan font-size="14" dy="-9">-1</tspan><tspan dy="9"> (mg mg</tspan><tspan font-size="14" dy="-9">-1</tspan><tspan dy="9">)</tspan></text>
</svg></body></html>
